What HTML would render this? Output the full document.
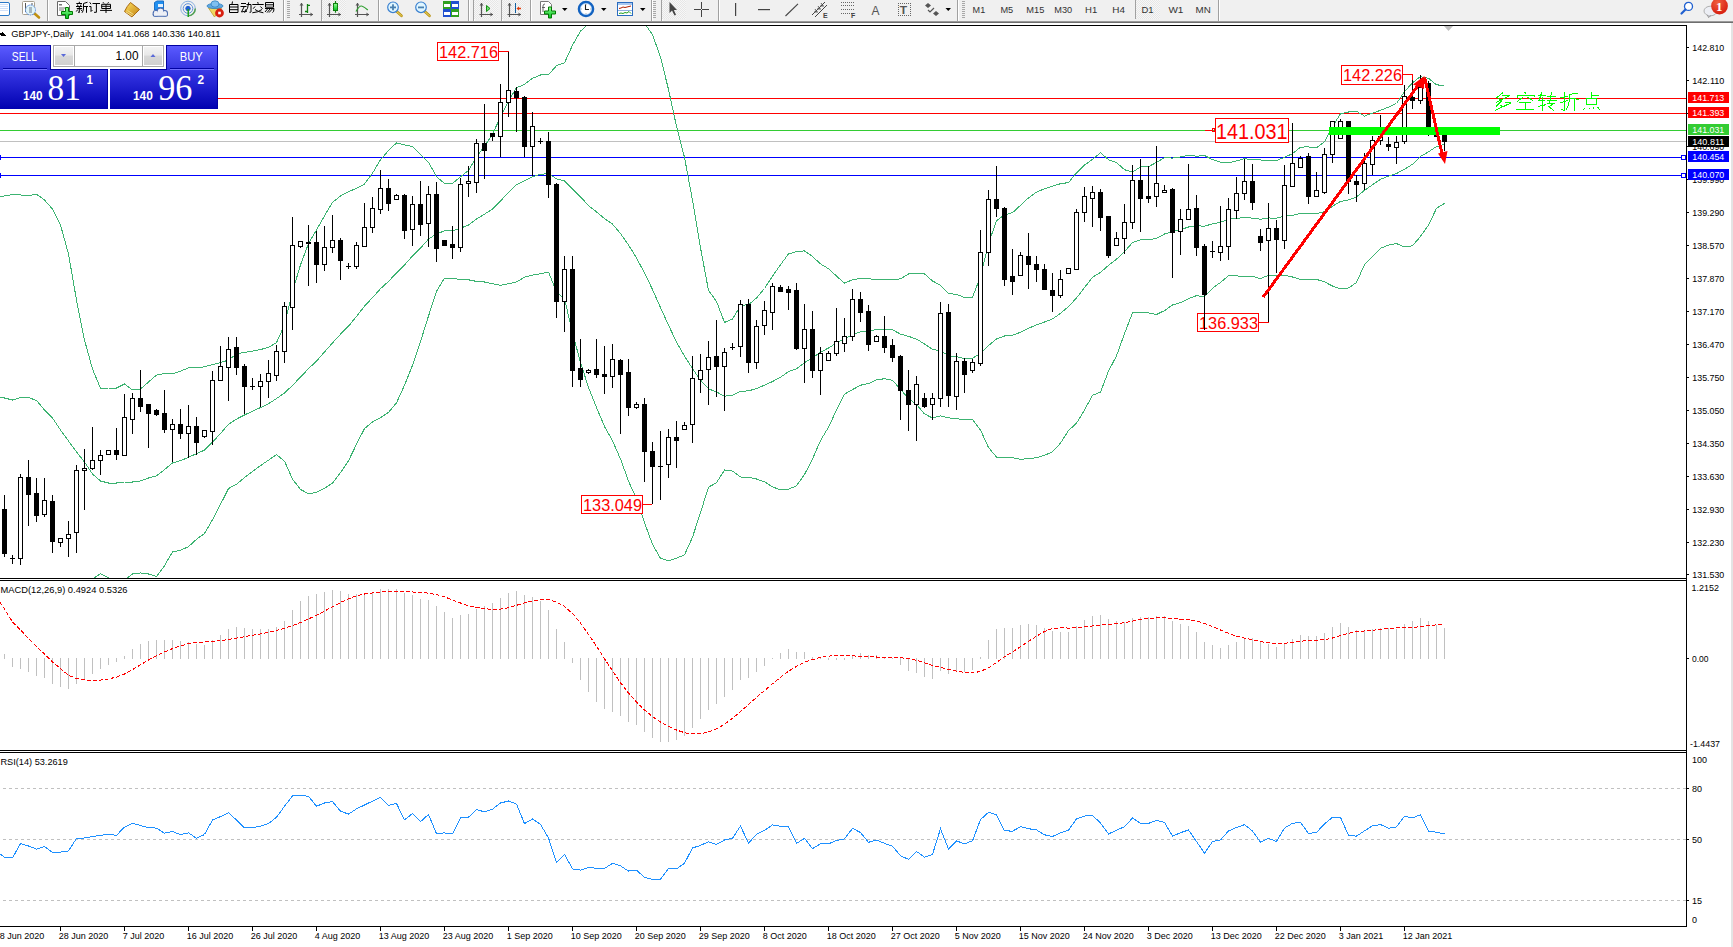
<!DOCTYPE html>
<html><head><meta charset="utf-8">
<style>
html,body{margin:0;padding:0;width:1733px;height:947px;overflow:hidden;background:#f0f0f0;font-family:"Liberation Sans",sans-serif;}
#main{position:absolute;left:0;top:0;}
</style></head><body>
<svg id="main" width="1733" height="947" viewBox="0 0 1733 947" font-family="Liberation Sans, sans-serif">
<rect x="0" y="0" width="1733" height="21" fill="#f0f0f0"/>
<rect x="0" y="21" width="1733" height="1" fill="#9a9a9a"/>
<rect x="0" y="22" width="1733" height="1" fill="#6e6e6e"/>
<defs><clipPath id="cm"><rect x="0" y="26" width="1686" height="552"/></clipPath><clipPath id="cd"><rect x="0" y="581" width="1686" height="169"/></clipPath><clipPath id="cr"><rect x="0" y="753" width="1686" height="173"/></clipPath></defs>
<rect x="0" y="23" width="1733" height="924" fill="#fff"/>
<g shape-rendering="crispEdges" fill="#000">
<rect x="0" y="25" width="1687" height="1"/>
<rect x="1686" y="25" width="1" height="902"/>
<rect x="0" y="578" width="1687" height="1"/>
<rect x="0" y="580" width="1687" height="1"/>
<rect x="0" y="750" width="1687" height="1"/>
<rect x="0" y="752" width="1687" height="1"/>
<rect x="0" y="926" width="1687" height="1"/>
</g>
<g shape-rendering="crispEdges">
<rect x="0" y="98" width="1686" height="1" fill="#ff0000"/>
<rect x="0" y="113" width="1686" height="1" fill="#ff0000"/>
<rect x="0" y="130" width="1686" height="1" fill="#33cc33"/>
<rect x="0" y="141" width="1686" height="1" fill="#c0c0c0"/>
<rect x="0" y="157" width="1686" height="1" fill="#0000ff"/>
<rect x="0" y="175" width="1686" height="1" fill="#0000ff"/>
</g>
<g clip-path="url(#cm)">
<polyline points="-3.5,197.0 4.5,196.0 12.5,194.5 20.5,195.0 28.5,195.5 36.5,194.2 44.5,200.0 52.5,209.0 60.5,225.0 68.5,254.0 76.5,300.0 84.5,340.0 92.5,369.0 100.5,388.4 108.5,388.0 116.5,388.0 124.5,384.0 132.5,390.0 140.5,389.0 148.5,382.0 156.5,375.1 164.5,373.5 172.5,374.0 180.5,371.1 188.5,367.9 196.5,368.0 204.5,366.8 212.5,364.5 220.5,362.6 228.5,360.1 236.5,353.8 244.5,352.4 252.5,351.1 260.5,349.6 268.5,347.3 276.5,342.7 284.5,324.9 292.5,291.6 300.5,264.9 308.5,243.5 316.5,229.9 324.5,215.8 332.5,202.5 340.5,195.9 348.5,191.7 356.5,188.4 364.5,184.0 372.5,173.2 380.5,159.8 388.5,150.5 396.5,142.9 404.5,144.8 412.5,146.7 420.5,154.5 428.5,162.3 436.5,176.6 444.5,183.5 452.5,183.5 460.5,176.8 468.5,170.4 476.5,156.8 484.5,146.4 492.5,134.3 500.5,116.8 508.5,100.7 516.5,87.8 524.5,84.4 532.5,78.3 540.5,75.0 548.5,74.8 556.5,65.7 564.5,62.8 572.5,45.3 580.5,31.2 588.5,23.7 596.5,16.3 604.5,10.4 612.5,7.4 620.5,8.2 628.5,8.7 636.5,16.9 644.5,23.3 652.5,34.7 660.5,57.1 668.5,89.5 676.5,126.4 684.5,157.4 692.5,200.3 700.5,247.7 708.5,290.4 716.5,301.4 724.5,322.4 732.5,319.0 740.5,305.5 748.5,304.7 756.5,298.0 764.5,288.5 772.5,276.1 780.5,264.7 788.5,254.0 796.5,251.7 804.5,250.9 812.5,256.5 820.5,263.9 828.5,268.7 836.5,276.1 844.5,283.1 852.5,279.7 860.5,278.4 868.5,278.7 876.5,279.6 884.5,279.8 892.5,279.4 900.5,278.9 908.5,274.0 916.5,273.8 924.5,273.9 932.5,281.0 940.5,285.3 948.5,293.6 956.5,294.4 964.5,297.5 972.5,297.3 980.5,276.5 988.5,243.6 996.5,220.7 1004.5,214.9 1012.5,212.7 1020.5,205.3 1028.5,197.9 1036.5,192.1 1044.5,188.7 1052.5,186.1 1060.5,183.7 1068.5,182.6 1076.5,172.8 1084.5,165.1 1092.5,159.3 1100.5,152.8 1108.5,159.7 1116.5,162.6 1124.5,169.7 1132.5,172.1 1140.5,166.9 1148.5,166.6 1156.5,162.4 1164.5,157.5 1172.5,158.1 1180.5,156.9 1188.5,155.3 1196.5,156.2 1204.5,155.5 1212.5,159.6 1220.5,162.2 1228.5,162.9 1236.5,160.9 1244.5,158.6 1252.5,159.7 1260.5,160.0 1268.5,160.8 1276.5,160.7 1284.5,157.2 1292.5,153.7 1300.5,147.1 1308.5,146.9 1316.5,147.8 1324.5,141.8 1332.5,126.5 1340.5,113.8 1348.5,112.0 1356.5,111.3 1364.5,116.1 1372.5,113.1 1380.5,110.3 1388.5,107.1 1396.5,103.5 1404.5,91.7 1412.5,82.7 1420.5,76.6 1428.5,78.3 1436.5,84.9 1444.5,85.3" fill="none" stroke="#3cb371" stroke-width="1" shape-rendering="crispEdges" />
<polyline points="-3.5,397.0 4.5,398.0 12.5,400.0 20.5,397.5 28.5,397.5 36.5,400.5 44.5,410.0 52.5,418.0 60.5,430.0 68.5,441.0 76.5,452.0 84.5,462.0 92.5,474.0 100.5,481.0 108.5,483.0 116.5,483.0 124.5,482.0 132.5,482.0 140.5,481.0 148.5,478.0 156.5,475.8 164.5,469.6 172.5,462.9 180.5,460.7 188.5,457.3 196.5,453.6 204.5,450.1 212.5,442.1 220.5,433.5 228.5,424.3 236.5,419.1 244.5,415.0 252.5,411.2 260.5,407.6 268.5,403.7 276.5,398.6 284.5,393.0 292.5,385.4 300.5,377.1 308.5,368.6 316.5,361.1 324.5,352.0 332.5,342.9 340.5,334.2 348.5,326.2 356.5,316.4 364.5,306.2 372.5,297.6 380.5,288.7 388.5,281.4 396.5,272.9 404.5,265.0 412.5,256.0 420.5,248.1 428.5,239.1 436.5,233.9 444.5,230.9 452.5,231.0 460.5,228.2 468.5,225.1 476.5,219.1 484.5,214.2 492.5,209.0 500.5,201.1 508.5,192.2 516.5,184.8 524.5,180.8 532.5,176.7 540.5,174.4 548.5,173.4 556.5,178.8 564.5,180.8 572.5,189.0 580.5,196.8 588.5,205.6 596.5,211.9 604.5,218.5 612.5,224.1 620.5,233.6 628.5,244.9 636.5,257.9 644.5,273.0 652.5,289.5 660.5,307.7 668.5,325.1 676.5,342.2 684.5,356.1 692.5,368.7 700.5,380.1 708.5,388.8 716.5,392.0 724.5,396.2 732.5,395.1 740.5,391.3 748.5,390.9 756.5,388.5 764.5,385.2 772.5,381.5 780.5,377.3 788.5,371.6 796.5,368.8 804.5,362.7 812.5,357.8 820.5,352.2 828.5,348.0 836.5,343.0 844.5,338.6 852.5,334.7 860.5,331.8 868.5,331.1 876.5,329.6 884.5,329.3 892.5,329.8 900.5,334.1 908.5,336.3 916.5,339.1 924.5,343.9 932.5,349.5 940.5,350.6 948.5,355.8 956.5,356.5 964.5,358.7 972.5,358.3 980.5,353.3 988.5,345.6 996.5,338.9 1004.5,336.0 1012.5,335.1 1020.5,332.3 1028.5,328.3 1036.5,324.9 1044.5,322.0 1052.5,318.9 1060.5,313.4 1068.5,306.6 1076.5,298.0 1084.5,287.6 1092.5,277.3 1100.5,272.4 1108.5,265.4 1116.5,259.2 1124.5,251.6 1132.5,242.5 1140.5,239.8 1148.5,239.7 1156.5,238.5 1164.5,234.0 1172.5,231.6 1180.5,229.7 1188.5,227.0 1196.5,225.9 1204.5,226.1 1212.5,223.9 1220.5,222.3 1228.5,219.3 1236.5,218.4 1244.5,217.6 1252.5,218.1 1260.5,219.3 1268.5,218.0 1276.5,218.1 1284.5,216.2 1292.5,215.3 1300.5,213.3 1308.5,213.2 1316.5,213.6 1324.5,211.8 1332.5,206.3 1340.5,201.4 1348.5,200.0 1356.5,196.9 1364.5,190.3 1372.5,184.8 1380.5,179.3 1388.5,176.1 1396.5,173.5 1404.5,169.3 1412.5,164.3 1420.5,156.5 1428.5,151.8 1436.5,146.6 1444.5,144.4" fill="none" stroke="#3cb371" stroke-width="1" shape-rendering="crispEdges" />
<polyline points="-3.5,597.0 4.5,600.0 12.5,605.5 20.5,600.0 28.5,599.5 36.5,606.8 44.5,620.0 52.5,627.0 60.5,635.0 68.5,628.0 76.5,604.0 84.5,584.0 92.5,579.0 100.5,573.6 108.5,578.0 116.5,578.0 124.5,580.0 132.5,574.0 140.5,573.0 148.5,574.0 156.5,576.5 164.5,565.7 172.5,551.8 180.5,550.3 188.5,546.7 196.5,539.3 204.5,533.5 212.5,519.7 220.5,504.4 228.5,488.5 236.5,484.3 244.5,477.5 252.5,471.4 260.5,465.6 268.5,460.2 276.5,454.5 284.5,461.2 292.5,479.1 300.5,489.4 308.5,493.8 316.5,492.4 324.5,488.2 332.5,483.2 340.5,472.6 348.5,460.8 356.5,444.3 364.5,428.5 372.5,422.0 380.5,417.6 388.5,412.4 396.5,402.9 404.5,385.2 412.5,365.2 420.5,341.6 428.5,316.0 436.5,291.3 444.5,278.2 452.5,278.5 460.5,279.5 468.5,279.8 476.5,281.4 484.5,282.0 492.5,283.7 500.5,285.3 508.5,283.8 516.5,281.9 524.5,277.2 532.5,275.1 540.5,273.8 548.5,272.1 556.5,291.9 564.5,298.7 572.5,332.7 580.5,362.4 588.5,387.4 596.5,407.5 604.5,426.5 612.5,440.8 620.5,459.0 628.5,481.0 636.5,498.9 644.5,522.6 652.5,544.4 660.5,558.4 668.5,560.7 676.5,558.1 684.5,554.9 692.5,537.2 700.5,512.6 708.5,487.2 716.5,482.7 724.5,470.0 732.5,471.1 740.5,477.0 748.5,477.1 756.5,479.0 764.5,481.8 772.5,486.9 780.5,489.9 788.5,489.2 796.5,485.8 804.5,474.5 812.5,459.1 820.5,440.5 828.5,427.2 836.5,410.0 844.5,394.2 852.5,389.6 860.5,385.2 868.5,383.6 876.5,379.6 884.5,378.8 892.5,380.2 900.5,389.4 908.5,398.5 916.5,404.5 924.5,413.9 932.5,418.0 940.5,415.9 948.5,417.9 956.5,418.5 964.5,420.0 972.5,419.4 980.5,430.0 988.5,447.5 996.5,457.1 1004.5,457.1 1012.5,457.6 1020.5,459.3 1028.5,458.6 1036.5,457.7 1044.5,455.3 1052.5,451.8 1060.5,443.1 1068.5,430.6 1076.5,423.2 1084.5,410.0 1092.5,395.3 1100.5,392.1 1108.5,371.1 1116.5,355.8 1124.5,333.6 1132.5,313.0 1140.5,312.8 1148.5,312.9 1156.5,314.5 1164.5,310.6 1172.5,305.0 1180.5,302.6 1188.5,298.7 1196.5,295.6 1204.5,296.8 1212.5,288.3 1220.5,282.4 1228.5,275.8 1236.5,275.9 1244.5,276.6 1252.5,276.4 1260.5,278.7 1268.5,275.2 1276.5,275.4 1284.5,275.3 1292.5,277.0 1300.5,279.6 1308.5,279.6 1316.5,279.4 1324.5,281.9 1332.5,286.0 1340.5,289.0 1348.5,288.0 1356.5,282.5 1364.5,264.6 1372.5,256.5 1380.5,248.3 1388.5,245.1 1396.5,243.6 1404.5,246.9 1412.5,245.8 1420.5,236.4 1428.5,225.2 1436.5,208.3 1444.5,203.4" fill="none" stroke="#3cb371" stroke-width="1" shape-rendering="crispEdges" />
</g>
<g shape-rendering="crispEdges" clip-path="url(#cm)">
<rect x="4" y="495" width="1" height="62" fill="#000"/>
<rect x="2" y="509" width="5" height="45" fill="#000"/>
<rect x="12" y="555" width="1" height="9" fill="#000"/>
<rect x="10" y="558" width="5" height="1" fill="#000"/>
<rect x="20" y="474" width="1" height="91" fill="#000"/>
<rect x="18" y="477" width="5" height="82" fill="#000"/>
<rect x="19" y="478" width="3" height="80" fill="#fff"/>
<rect x="28" y="460" width="1" height="66" fill="#000"/>
<rect x="26" y="477" width="5" height="18" fill="#000"/>
<rect x="36" y="478" width="1" height="44" fill="#000"/>
<rect x="34" y="493" width="5" height="23" fill="#000"/>
<rect x="44" y="478" width="1" height="39" fill="#000"/>
<rect x="42" y="500" width="5" height="15" fill="#000"/>
<rect x="43" y="501" width="3" height="13" fill="#fff"/>
<rect x="52" y="495" width="1" height="58" fill="#000"/>
<rect x="50" y="501" width="5" height="41" fill="#000"/>
<rect x="60" y="538" width="1" height="9" fill="#000"/>
<rect x="58" y="538" width="5" height="5" fill="#000"/>
<rect x="59" y="539" width="3" height="3" fill="#fff"/>
<rect x="68" y="521" width="1" height="36" fill="#000"/>
<rect x="66" y="534" width="5" height="5" fill="#000"/>
<rect x="67" y="535" width="3" height="3" fill="#fff"/>
<rect x="76" y="465" width="1" height="88" fill="#000"/>
<rect x="74" y="470" width="5" height="63" fill="#000"/>
<rect x="75" y="471" width="3" height="61" fill="#fff"/>
<rect x="84" y="449" width="1" height="61" fill="#000"/>
<rect x="82" y="468" width="5" height="3" fill="#000"/>
<rect x="83" y="469" width="3" height="1" fill="#fff"/>
<rect x="92" y="427" width="1" height="43" fill="#000"/>
<rect x="90" y="460" width="5" height="9" fill="#000"/>
<rect x="91" y="461" width="3" height="7" fill="#fff"/>
<rect x="100" y="450" width="1" height="25" fill="#000"/>
<rect x="98" y="455" width="5" height="6" fill="#000"/>
<rect x="99" y="456" width="3" height="4" fill="#fff"/>
<rect x="108" y="450" width="1" height="5" fill="#000"/>
<rect x="106" y="450" width="5" height="5" fill="#000"/>
<rect x="107" y="451" width="3" height="3" fill="#fff"/>
<rect x="116" y="428" width="1" height="32" fill="#000"/>
<rect x="114" y="450" width="5" height="5" fill="#000"/>
<rect x="124" y="394" width="1" height="61" fill="#000"/>
<rect x="122" y="417" width="5" height="39" fill="#000"/>
<rect x="123" y="418" width="3" height="37" fill="#fff"/>
<rect x="132" y="393" width="1" height="41" fill="#000"/>
<rect x="130" y="398" width="5" height="22" fill="#000"/>
<rect x="131" y="399" width="3" height="20" fill="#fff"/>
<rect x="140" y="370" width="1" height="42" fill="#000"/>
<rect x="138" y="398" width="5" height="9" fill="#000"/>
<rect x="148" y="404" width="1" height="44" fill="#000"/>
<rect x="146" y="404" width="5" height="10" fill="#000"/>
<rect x="156" y="409" width="1" height="7" fill="#000"/>
<rect x="154" y="410" width="5" height="5" fill="#000"/>
<rect x="164" y="390" width="1" height="43" fill="#000"/>
<rect x="162" y="413" width="5" height="17" fill="#000"/>
<rect x="172" y="419" width="1" height="43" fill="#000"/>
<rect x="170" y="424" width="5" height="6" fill="#000"/>
<rect x="171" y="425" width="3" height="4" fill="#fff"/>
<rect x="180" y="409" width="1" height="30" fill="#000"/>
<rect x="178" y="424" width="5" height="10" fill="#000"/>
<rect x="188" y="405" width="1" height="53" fill="#000"/>
<rect x="186" y="426" width="5" height="8" fill="#000"/>
<rect x="187" y="427" width="3" height="6" fill="#fff"/>
<rect x="196" y="417" width="1" height="38" fill="#000"/>
<rect x="194" y="426" width="5" height="17" fill="#000"/>
<rect x="204" y="430" width="1" height="8" fill="#000"/>
<rect x="202" y="430" width="5" height="7" fill="#000"/>
<rect x="203" y="431" width="3" height="5" fill="#fff"/>
<rect x="212" y="371" width="1" height="74" fill="#000"/>
<rect x="210" y="380" width="5" height="52" fill="#000"/>
<rect x="211" y="381" width="3" height="50" fill="#fff"/>
<rect x="220" y="346" width="1" height="35" fill="#000"/>
<rect x="218" y="366" width="5" height="15" fill="#000"/>
<rect x="219" y="367" width="3" height="13" fill="#fff"/>
<rect x="228" y="337" width="1" height="64" fill="#000"/>
<rect x="226" y="349" width="5" height="19" fill="#000"/>
<rect x="227" y="350" width="3" height="17" fill="#fff"/>
<rect x="236" y="337" width="1" height="38" fill="#000"/>
<rect x="234" y="347" width="5" height="21" fill="#000"/>
<rect x="244" y="364" width="1" height="50" fill="#000"/>
<rect x="242" y="366" width="5" height="21" fill="#000"/>
<rect x="252" y="378" width="1" height="12" fill="#000"/>
<rect x="250" y="386" width="5" height="1" fill="#000"/>
<rect x="260" y="374" width="1" height="33" fill="#000"/>
<rect x="258" y="381" width="5" height="6" fill="#000"/>
<rect x="259" y="382" width="3" height="4" fill="#fff"/>
<rect x="268" y="360" width="1" height="38" fill="#000"/>
<rect x="266" y="373" width="5" height="9" fill="#000"/>
<rect x="267" y="374" width="3" height="7" fill="#fff"/>
<rect x="276" y="345" width="1" height="36" fill="#000"/>
<rect x="274" y="351" width="5" height="25" fill="#000"/>
<rect x="275" y="352" width="3" height="23" fill="#fff"/>
<rect x="284" y="302" width="1" height="61" fill="#000"/>
<rect x="282" y="306" width="5" height="46" fill="#000"/>
<rect x="283" y="307" width="3" height="44" fill="#fff"/>
<rect x="292" y="217" width="1" height="113" fill="#000"/>
<rect x="290" y="245" width="5" height="63" fill="#000"/>
<rect x="291" y="246" width="3" height="61" fill="#fff"/>
<rect x="300" y="241" width="1" height="7" fill="#000"/>
<rect x="298" y="241" width="5" height="6" fill="#000"/>
<rect x="299" y="242" width="3" height="4" fill="#fff"/>
<rect x="308" y="225" width="1" height="61" fill="#000"/>
<rect x="306" y="242" width="5" height="2" fill="#000"/>
<rect x="316" y="231" width="1" height="52" fill="#000"/>
<rect x="314" y="242" width="5" height="23" fill="#000"/>
<rect x="324" y="226" width="1" height="45" fill="#000"/>
<rect x="322" y="247" width="5" height="18" fill="#000"/>
<rect x="323" y="248" width="3" height="16" fill="#fff"/>
<rect x="332" y="215" width="1" height="38" fill="#000"/>
<rect x="330" y="240" width="5" height="8" fill="#000"/>
<rect x="331" y="241" width="3" height="6" fill="#fff"/>
<rect x="340" y="238" width="1" height="42" fill="#000"/>
<rect x="338" y="240" width="5" height="21" fill="#000"/>
<rect x="348" y="263" width="1" height="6" fill="#000"/>
<rect x="346" y="266" width="5" height="1" fill="#000"/>
<rect x="356" y="242" width="1" height="27" fill="#000"/>
<rect x="354" y="245" width="5" height="22" fill="#000"/>
<rect x="355" y="246" width="3" height="20" fill="#fff"/>
<rect x="364" y="203" width="1" height="44" fill="#000"/>
<rect x="362" y="227" width="5" height="20" fill="#000"/>
<rect x="363" y="228" width="3" height="18" fill="#fff"/>
<rect x="372" y="197" width="1" height="36" fill="#000"/>
<rect x="370" y="208" width="5" height="20" fill="#000"/>
<rect x="371" y="209" width="3" height="18" fill="#fff"/>
<rect x="380" y="170" width="1" height="44" fill="#000"/>
<rect x="378" y="188" width="5" height="22" fill="#000"/>
<rect x="379" y="189" width="3" height="20" fill="#fff"/>
<rect x="388" y="179" width="1" height="32" fill="#000"/>
<rect x="386" y="188" width="5" height="16" fill="#000"/>
<rect x="396" y="194" width="1" height="6" fill="#000"/>
<rect x="394" y="195" width="5" height="5" fill="#000"/>
<rect x="395" y="196" width="3" height="3" fill="#fff"/>
<rect x="404" y="194" width="1" height="45" fill="#000"/>
<rect x="402" y="195" width="5" height="36" fill="#000"/>
<rect x="412" y="196" width="1" height="50" fill="#000"/>
<rect x="410" y="204" width="5" height="26" fill="#000"/>
<rect x="411" y="205" width="3" height="24" fill="#fff"/>
<rect x="420" y="181" width="1" height="55" fill="#000"/>
<rect x="418" y="204" width="5" height="21" fill="#000"/>
<rect x="428" y="186" width="1" height="61" fill="#000"/>
<rect x="426" y="194" width="5" height="30" fill="#000"/>
<rect x="427" y="195" width="3" height="28" fill="#fff"/>
<rect x="436" y="182" width="1" height="80" fill="#000"/>
<rect x="434" y="194" width="5" height="55" fill="#000"/>
<rect x="444" y="240" width="1" height="5" fill="#000"/>
<rect x="442" y="240" width="5" height="6" fill="#000"/>
<rect x="452" y="226" width="1" height="33" fill="#000"/>
<rect x="450" y="244" width="5" height="4" fill="#000"/>
<rect x="460" y="178" width="1" height="74" fill="#000"/>
<rect x="458" y="184" width="5" height="64" fill="#000"/>
<rect x="459" y="185" width="3" height="62" fill="#fff"/>
<rect x="468" y="166" width="1" height="31" fill="#000"/>
<rect x="466" y="181" width="5" height="3" fill="#000"/>
<rect x="467" y="182" width="3" height="1" fill="#fff"/>
<rect x="476" y="139" width="1" height="54" fill="#000"/>
<rect x="474" y="143" width="5" height="40" fill="#000"/>
<rect x="475" y="144" width="3" height="38" fill="#fff"/>
<rect x="484" y="104" width="1" height="75" fill="#000"/>
<rect x="482" y="143" width="5" height="8" fill="#000"/>
<rect x="492" y="133" width="1" height="8" fill="#000"/>
<rect x="490" y="133" width="5" height="4" fill="#000"/>
<rect x="500" y="84" width="1" height="73" fill="#000"/>
<rect x="498" y="102" width="5" height="35" fill="#000"/>
<rect x="499" y="103" width="3" height="33" fill="#fff"/>
<rect x="508" y="51" width="1" height="66" fill="#000"/>
<rect x="506" y="90" width="5" height="13" fill="#000"/>
<rect x="507" y="91" width="3" height="11" fill="#fff"/>
<rect x="516" y="87" width="1" height="45" fill="#000"/>
<rect x="514" y="91" width="5" height="7" fill="#000"/>
<rect x="524" y="96" width="1" height="61" fill="#000"/>
<rect x="522" y="97" width="5" height="50" fill="#000"/>
<rect x="532" y="112" width="1" height="64" fill="#000"/>
<rect x="530" y="126" width="5" height="21" fill="#000"/>
<rect x="531" y="127" width="3" height="19" fill="#fff"/>
<rect x="540" y="138" width="1" height="6" fill="#000"/>
<rect x="538" y="141" width="5" height="1" fill="#000"/>
<rect x="548" y="132" width="1" height="66" fill="#000"/>
<rect x="546" y="141" width="5" height="44" fill="#000"/>
<rect x="556" y="183" width="1" height="135" fill="#000"/>
<rect x="554" y="184" width="5" height="118" fill="#000"/>
<rect x="564" y="256" width="1" height="76" fill="#000"/>
<rect x="562" y="269" width="5" height="33" fill="#000"/>
<rect x="563" y="270" width="3" height="31" fill="#fff"/>
<rect x="572" y="256" width="1" height="131" fill="#000"/>
<rect x="570" y="269" width="5" height="102" fill="#000"/>
<rect x="580" y="339" width="1" height="48" fill="#000"/>
<rect x="578" y="368" width="5" height="12" fill="#000"/>
<rect x="588" y="369" width="1" height="5" fill="#000"/>
<rect x="586" y="370" width="5" height="3" fill="#000"/>
<rect x="587" y="371" width="3" height="1" fill="#fff"/>
<rect x="596" y="339" width="1" height="39" fill="#000"/>
<rect x="594" y="369" width="5" height="6" fill="#000"/>
<rect x="604" y="346" width="1" height="48" fill="#000"/>
<rect x="602" y="374" width="5" height="3" fill="#000"/>
<rect x="612" y="344" width="1" height="44" fill="#000"/>
<rect x="610" y="359" width="5" height="18" fill="#000"/>
<rect x="611" y="360" width="3" height="16" fill="#fff"/>
<rect x="620" y="359" width="1" height="75" fill="#000"/>
<rect x="618" y="360" width="5" height="15" fill="#000"/>
<rect x="628" y="359" width="1" height="57" fill="#000"/>
<rect x="626" y="372" width="5" height="36" fill="#000"/>
<rect x="636" y="402" width="1" height="7" fill="#000"/>
<rect x="634" y="404" width="5" height="4" fill="#000"/>
<rect x="635" y="405" width="3" height="2" fill="#fff"/>
<rect x="644" y="398" width="1" height="84" fill="#000"/>
<rect x="642" y="404" width="5" height="48" fill="#000"/>
<rect x="652" y="442" width="1" height="62" fill="#000"/>
<rect x="650" y="451" width="5" height="16" fill="#000"/>
<rect x="660" y="431" width="1" height="69" fill="#000"/>
<rect x="658" y="466" width="5" height="1" fill="#000"/>
<rect x="668" y="429" width="1" height="49" fill="#000"/>
<rect x="666" y="437" width="5" height="28" fill="#000"/>
<rect x="667" y="438" width="3" height="26" fill="#fff"/>
<rect x="676" y="421" width="1" height="47" fill="#000"/>
<rect x="674" y="437" width="5" height="4" fill="#000"/>
<rect x="684" y="422" width="1" height="7" fill="#000"/>
<rect x="682" y="425" width="5" height="5" fill="#000"/>
<rect x="683" y="426" width="3" height="3" fill="#fff"/>
<rect x="692" y="356" width="1" height="87" fill="#000"/>
<rect x="690" y="378" width="5" height="47" fill="#000"/>
<rect x="691" y="379" width="3" height="45" fill="#fff"/>
<rect x="700" y="354" width="1" height="39" fill="#000"/>
<rect x="698" y="370" width="5" height="10" fill="#000"/>
<rect x="699" y="371" width="3" height="8" fill="#fff"/>
<rect x="708" y="341" width="1" height="64" fill="#000"/>
<rect x="706" y="357" width="5" height="13" fill="#000"/>
<rect x="707" y="358" width="3" height="11" fill="#fff"/>
<rect x="716" y="320" width="1" height="77" fill="#000"/>
<rect x="714" y="356" width="5" height="11" fill="#000"/>
<rect x="724" y="348" width="1" height="63" fill="#000"/>
<rect x="722" y="352" width="5" height="15" fill="#000"/>
<rect x="723" y="353" width="3" height="13" fill="#fff"/>
<rect x="732" y="343" width="1" height="7" fill="#000"/>
<rect x="730" y="347" width="5" height="1" fill="#000"/>
<rect x="740" y="300" width="1" height="57" fill="#000"/>
<rect x="738" y="304" width="5" height="43" fill="#000"/>
<rect x="739" y="305" width="3" height="41" fill="#fff"/>
<rect x="748" y="299" width="1" height="74" fill="#000"/>
<rect x="746" y="304" width="5" height="59" fill="#000"/>
<rect x="756" y="320" width="1" height="49" fill="#000"/>
<rect x="754" y="326" width="5" height="37" fill="#000"/>
<rect x="755" y="327" width="3" height="35" fill="#fff"/>
<rect x="764" y="301" width="1" height="34" fill="#000"/>
<rect x="762" y="310" width="5" height="16" fill="#000"/>
<rect x="763" y="311" width="3" height="14" fill="#fff"/>
<rect x="772" y="283" width="1" height="47" fill="#000"/>
<rect x="770" y="286" width="5" height="27" fill="#000"/>
<rect x="771" y="287" width="3" height="25" fill="#fff"/>
<rect x="780" y="285" width="1" height="7" fill="#000"/>
<rect x="778" y="287" width="5" height="5" fill="#000"/>
<rect x="788" y="286" width="1" height="24" fill="#000"/>
<rect x="786" y="289" width="5" height="4" fill="#000"/>
<rect x="796" y="283" width="1" height="67" fill="#000"/>
<rect x="794" y="290" width="5" height="59" fill="#000"/>
<rect x="804" y="304" width="1" height="79" fill="#000"/>
<rect x="802" y="329" width="5" height="20" fill="#000"/>
<rect x="803" y="330" width="3" height="18" fill="#fff"/>
<rect x="812" y="311" width="1" height="67" fill="#000"/>
<rect x="810" y="329" width="5" height="42" fill="#000"/>
<rect x="820" y="347" width="1" height="48" fill="#000"/>
<rect x="818" y="353" width="5" height="18" fill="#000"/>
<rect x="819" y="354" width="3" height="16" fill="#fff"/>
<rect x="828" y="351" width="1" height="9" fill="#000"/>
<rect x="826" y="353" width="5" height="8" fill="#000"/>
<rect x="827" y="354" width="3" height="6" fill="#fff"/>
<rect x="836" y="308" width="1" height="48" fill="#000"/>
<rect x="834" y="341" width="5" height="13" fill="#000"/>
<rect x="835" y="342" width="3" height="11" fill="#fff"/>
<rect x="844" y="318" width="1" height="34" fill="#000"/>
<rect x="842" y="336" width="5" height="8" fill="#000"/>
<rect x="843" y="337" width="3" height="6" fill="#fff"/>
<rect x="852" y="289" width="1" height="52" fill="#000"/>
<rect x="850" y="299" width="5" height="38" fill="#000"/>
<rect x="851" y="300" width="3" height="36" fill="#fff"/>
<rect x="860" y="292" width="1" height="30" fill="#000"/>
<rect x="858" y="299" width="5" height="14" fill="#000"/>
<rect x="868" y="305" width="1" height="46" fill="#000"/>
<rect x="866" y="311" width="5" height="34" fill="#000"/>
<rect x="876" y="335" width="1" height="6" fill="#000"/>
<rect x="874" y="336" width="5" height="6" fill="#000"/>
<rect x="875" y="337" width="3" height="4" fill="#fff"/>
<rect x="884" y="316" width="1" height="37" fill="#000"/>
<rect x="882" y="336" width="5" height="12" fill="#000"/>
<rect x="892" y="339" width="1" height="23" fill="#000"/>
<rect x="890" y="345" width="5" height="13" fill="#000"/>
<rect x="900" y="355" width="1" height="65" fill="#000"/>
<rect x="898" y="356" width="5" height="35" fill="#000"/>
<rect x="908" y="370" width="1" height="61" fill="#000"/>
<rect x="906" y="390" width="5" height="15" fill="#000"/>
<rect x="916" y="376" width="1" height="65" fill="#000"/>
<rect x="914" y="384" width="5" height="21" fill="#000"/>
<rect x="915" y="385" width="3" height="19" fill="#fff"/>
<rect x="924" y="393" width="1" height="15" fill="#000"/>
<rect x="922" y="398" width="5" height="9" fill="#000"/>
<rect x="932" y="393" width="1" height="27" fill="#000"/>
<rect x="930" y="398" width="5" height="7" fill="#000"/>
<rect x="931" y="399" width="3" height="5" fill="#fff"/>
<rect x="940" y="302" width="1" height="105" fill="#000"/>
<rect x="938" y="313" width="5" height="86" fill="#000"/>
<rect x="939" y="314" width="3" height="84" fill="#fff"/>
<rect x="948" y="304" width="1" height="103" fill="#000"/>
<rect x="946" y="312" width="5" height="84" fill="#000"/>
<rect x="956" y="353" width="1" height="57" fill="#000"/>
<rect x="954" y="361" width="5" height="36" fill="#000"/>
<rect x="955" y="362" width="3" height="34" fill="#fff"/>
<rect x="964" y="358" width="1" height="35" fill="#000"/>
<rect x="962" y="361" width="5" height="14" fill="#000"/>
<rect x="972" y="359" width="1" height="14" fill="#000"/>
<rect x="970" y="362" width="5" height="9" fill="#000"/>
<rect x="971" y="363" width="3" height="7" fill="#fff"/>
<rect x="980" y="230" width="1" height="136" fill="#000"/>
<rect x="978" y="252" width="5" height="112" fill="#000"/>
<rect x="979" y="253" width="3" height="110" fill="#fff"/>
<rect x="988" y="190" width="1" height="76" fill="#000"/>
<rect x="986" y="199" width="5" height="54" fill="#000"/>
<rect x="987" y="200" width="3" height="52" fill="#fff"/>
<rect x="996" y="166" width="1" height="51" fill="#000"/>
<rect x="994" y="199" width="5" height="10" fill="#000"/>
<rect x="1004" y="207" width="1" height="79" fill="#000"/>
<rect x="1002" y="208" width="5" height="72" fill="#000"/>
<rect x="1012" y="249" width="1" height="46" fill="#000"/>
<rect x="1010" y="276" width="5" height="6" fill="#000"/>
<rect x="1020" y="252" width="1" height="24" fill="#000"/>
<rect x="1018" y="255" width="5" height="21" fill="#000"/>
<rect x="1019" y="256" width="3" height="19" fill="#fff"/>
<rect x="1028" y="233" width="1" height="56" fill="#000"/>
<rect x="1026" y="256" width="5" height="9" fill="#000"/>
<rect x="1036" y="256" width="1" height="26" fill="#000"/>
<rect x="1034" y="264" width="5" height="6" fill="#000"/>
<rect x="1044" y="264" width="1" height="25" fill="#000"/>
<rect x="1042" y="269" width="5" height="21" fill="#000"/>
<rect x="1052" y="273" width="1" height="39" fill="#000"/>
<rect x="1050" y="290" width="5" height="6" fill="#000"/>
<rect x="1060" y="270" width="1" height="28" fill="#000"/>
<rect x="1058" y="279" width="5" height="17" fill="#000"/>
<rect x="1059" y="280" width="3" height="15" fill="#fff"/>
<rect x="1068" y="268" width="1" height="5" fill="#000"/>
<rect x="1066" y="268" width="5" height="6" fill="#000"/>
<rect x="1067" y="269" width="3" height="4" fill="#fff"/>
<rect x="1076" y="209" width="1" height="61" fill="#000"/>
<rect x="1074" y="212" width="5" height="58" fill="#000"/>
<rect x="1075" y="213" width="3" height="56" fill="#fff"/>
<rect x="1084" y="187" width="1" height="35" fill="#000"/>
<rect x="1082" y="196" width="5" height="17" fill="#000"/>
<rect x="1083" y="197" width="3" height="15" fill="#fff"/>
<rect x="1092" y="186" width="1" height="41" fill="#000"/>
<rect x="1090" y="192" width="5" height="7" fill="#000"/>
<rect x="1091" y="193" width="3" height="5" fill="#fff"/>
<rect x="1100" y="189" width="1" height="42" fill="#000"/>
<rect x="1098" y="192" width="5" height="26" fill="#000"/>
<rect x="1108" y="216" width="1" height="42" fill="#000"/>
<rect x="1106" y="216" width="5" height="40" fill="#000"/>
<rect x="1116" y="232" width="1" height="14" fill="#000"/>
<rect x="1114" y="238" width="5" height="8" fill="#000"/>
<rect x="1115" y="239" width="3" height="6" fill="#fff"/>
<rect x="1124" y="204" width="1" height="50" fill="#000"/>
<rect x="1122" y="222" width="5" height="17" fill="#000"/>
<rect x="1123" y="223" width="3" height="15" fill="#fff"/>
<rect x="1132" y="165" width="1" height="64" fill="#000"/>
<rect x="1130" y="180" width="5" height="43" fill="#000"/>
<rect x="1131" y="181" width="3" height="41" fill="#fff"/>
<rect x="1140" y="159" width="1" height="73" fill="#000"/>
<rect x="1138" y="180" width="5" height="19" fill="#000"/>
<rect x="1148" y="166" width="1" height="37" fill="#000"/>
<rect x="1146" y="196" width="5" height="3" fill="#000"/>
<rect x="1156" y="146" width="1" height="61" fill="#000"/>
<rect x="1154" y="183" width="5" height="14" fill="#000"/>
<rect x="1155" y="184" width="3" height="12" fill="#fff"/>
<rect x="1164" y="185" width="1" height="7" fill="#000"/>
<rect x="1162" y="190" width="5" height="3" fill="#000"/>
<rect x="1163" y="191" width="3" height="1" fill="#fff"/>
<rect x="1172" y="188" width="1" height="90" fill="#000"/>
<rect x="1170" y="189" width="5" height="44" fill="#000"/>
<rect x="1180" y="209" width="1" height="46" fill="#000"/>
<rect x="1178" y="219" width="5" height="13" fill="#000"/>
<rect x="1179" y="220" width="3" height="11" fill="#fff"/>
<rect x="1188" y="164" width="1" height="55" fill="#000"/>
<rect x="1186" y="209" width="5" height="11" fill="#000"/>
<rect x="1187" y="210" width="3" height="9" fill="#fff"/>
<rect x="1196" y="195" width="1" height="61" fill="#000"/>
<rect x="1194" y="208" width="5" height="40" fill="#000"/>
<rect x="1204" y="244" width="1" height="86" fill="#000"/>
<rect x="1202" y="246" width="5" height="49" fill="#000"/>
<rect x="1212" y="241" width="1" height="17" fill="#000"/>
<rect x="1210" y="251" width="5" height="1" fill="#000"/>
<rect x="1220" y="206" width="1" height="55" fill="#000"/>
<rect x="1218" y="246" width="5" height="7" fill="#000"/>
<rect x="1219" y="247" width="3" height="5" fill="#fff"/>
<rect x="1228" y="198" width="1" height="62" fill="#000"/>
<rect x="1226" y="209" width="5" height="38" fill="#000"/>
<rect x="1227" y="210" width="3" height="36" fill="#fff"/>
<rect x="1236" y="177" width="1" height="42" fill="#000"/>
<rect x="1234" y="193" width="5" height="18" fill="#000"/>
<rect x="1235" y="194" width="3" height="16" fill="#fff"/>
<rect x="1244" y="159" width="1" height="41" fill="#000"/>
<rect x="1242" y="181" width="5" height="13" fill="#000"/>
<rect x="1243" y="182" width="3" height="11" fill="#fff"/>
<rect x="1252" y="164" width="1" height="46" fill="#000"/>
<rect x="1250" y="181" width="5" height="22" fill="#000"/>
<rect x="1260" y="229" width="1" height="22" fill="#000"/>
<rect x="1258" y="236" width="5" height="7" fill="#000"/>
<rect x="1268" y="203" width="1" height="119" fill="#000"/>
<rect x="1266" y="228" width="5" height="13" fill="#000"/>
<rect x="1267" y="229" width="3" height="11" fill="#fff"/>
<rect x="1276" y="220" width="1" height="53" fill="#000"/>
<rect x="1274" y="228" width="5" height="12" fill="#000"/>
<rect x="1284" y="165" width="1" height="84" fill="#000"/>
<rect x="1282" y="185" width="5" height="56" fill="#000"/>
<rect x="1283" y="186" width="3" height="54" fill="#fff"/>
<rect x="1292" y="123" width="1" height="64" fill="#000"/>
<rect x="1290" y="163" width="5" height="24" fill="#000"/>
<rect x="1291" y="164" width="3" height="22" fill="#fff"/>
<rect x="1300" y="156" width="1" height="12" fill="#000"/>
<rect x="1298" y="158" width="5" height="10" fill="#000"/>
<rect x="1299" y="159" width="3" height="8" fill="#fff"/>
<rect x="1308" y="153" width="1" height="51" fill="#000"/>
<rect x="1306" y="156" width="5" height="41" fill="#000"/>
<rect x="1316" y="172" width="1" height="25" fill="#000"/>
<rect x="1314" y="190" width="5" height="7" fill="#000"/>
<rect x="1315" y="191" width="3" height="5" fill="#fff"/>
<rect x="1324" y="148" width="1" height="46" fill="#000"/>
<rect x="1322" y="154" width="5" height="39" fill="#000"/>
<rect x="1323" y="155" width="3" height="37" fill="#fff"/>
<rect x="1332" y="121" width="1" height="42" fill="#000"/>
<rect x="1330" y="121" width="5" height="34" fill="#000"/>
<rect x="1331" y="122" width="3" height="32" fill="#fff"/>
<rect x="1340" y="119" width="1" height="19" fill="#000"/>
<rect x="1338" y="121" width="5" height="18" fill="#000"/>
<rect x="1339" y="122" width="3" height="16" fill="#fff"/>
<rect x="1348" y="121" width="1" height="73" fill="#000"/>
<rect x="1346" y="121" width="5" height="61" fill="#000"/>
<rect x="1356" y="175" width="1" height="27" fill="#000"/>
<rect x="1354" y="181" width="5" height="4" fill="#000"/>
<rect x="1364" y="153" width="1" height="37" fill="#000"/>
<rect x="1362" y="163" width="5" height="21" fill="#000"/>
<rect x="1363" y="164" width="3" height="19" fill="#fff"/>
<rect x="1372" y="136" width="1" height="39" fill="#000"/>
<rect x="1370" y="140" width="5" height="25" fill="#000"/>
<rect x="1371" y="141" width="3" height="23" fill="#fff"/>
<rect x="1380" y="115" width="1" height="30" fill="#000"/>
<rect x="1378" y="136" width="5" height="5" fill="#000"/>
<rect x="1379" y="137" width="3" height="3" fill="#fff"/>
<rect x="1388" y="137" width="1" height="14" fill="#000"/>
<rect x="1386" y="144" width="5" height="3" fill="#000"/>
<rect x="1396" y="136" width="1" height="28" fill="#000"/>
<rect x="1394" y="142" width="5" height="6" fill="#000"/>
<rect x="1395" y="143" width="3" height="4" fill="#fff"/>
<rect x="1404" y="85" width="1" height="59" fill="#000"/>
<rect x="1402" y="96" width="5" height="46" fill="#000"/>
<rect x="1403" y="97" width="3" height="44" fill="#fff"/>
<rect x="1412" y="74" width="1" height="35" fill="#000"/>
<rect x="1410" y="97" width="5" height="4" fill="#000"/>
<rect x="1420" y="75" width="1" height="29" fill="#000"/>
<rect x="1418" y="87" width="5" height="14" fill="#000"/>
<rect x="1419" y="88" width="3" height="12" fill="#fff"/>
<rect x="1428" y="81" width="1" height="55" fill="#000"/>
<rect x="1426" y="83" width="5" height="51" fill="#000"/>
<rect x="1436" y="130" width="1" height="7" fill="#000"/>
<rect x="1434" y="133" width="5" height="4" fill="#000"/>
<rect x="1444" y="135" width="1" height="16" fill="#000"/>
<rect x="1442" y="135" width="5" height="7" fill="#000"/>
</g>
<g shape-rendering="crispEdges" clip-path="url(#cd)">
<rect x="4" y="654" width="1" height="5" fill="#c0c0c0"/>
<rect x="12" y="658" width="1" height="9" fill="#c0c0c0"/>
<rect x="20" y="658" width="1" height="11" fill="#c0c0c0"/>
<rect x="28" y="658" width="1" height="14" fill="#c0c0c0"/>
<rect x="36" y="658" width="1" height="18" fill="#c0c0c0"/>
<rect x="44" y="658" width="1" height="20" fill="#c0c0c0"/>
<rect x="52" y="658" width="1" height="26" fill="#c0c0c0"/>
<rect x="60" y="658" width="1" height="29" fill="#c0c0c0"/>
<rect x="68" y="658" width="1" height="31" fill="#c0c0c0"/>
<rect x="76" y="658" width="1" height="26" fill="#c0c0c0"/>
<rect x="84" y="658" width="1" height="21" fill="#c0c0c0"/>
<rect x="92" y="658" width="1" height="16" fill="#c0c0c0"/>
<rect x="100" y="658" width="1" height="11" fill="#c0c0c0"/>
<rect x="108" y="658" width="1" height="7" fill="#c0c0c0"/>
<rect x="116" y="658" width="1" height="4" fill="#c0c0c0"/>
<rect x="124" y="656" width="1" height="3" fill="#c0c0c0"/>
<rect x="132" y="649" width="1" height="10" fill="#c0c0c0"/>
<rect x="140" y="644" width="1" height="15" fill="#c0c0c0"/>
<rect x="148" y="641" width="1" height="18" fill="#c0c0c0"/>
<rect x="156" y="640" width="1" height="19" fill="#c0c0c0"/>
<rect x="164" y="640" width="1" height="19" fill="#c0c0c0"/>
<rect x="172" y="640" width="1" height="19" fill="#c0c0c0"/>
<rect x="180" y="641" width="1" height="18" fill="#c0c0c0"/>
<rect x="188" y="642" width="1" height="17" fill="#c0c0c0"/>
<rect x="196" y="644" width="1" height="15" fill="#c0c0c0"/>
<rect x="204" y="645" width="1" height="14" fill="#c0c0c0"/>
<rect x="212" y="640" width="1" height="19" fill="#c0c0c0"/>
<rect x="220" y="635" width="1" height="24" fill="#c0c0c0"/>
<rect x="228" y="629" width="1" height="30" fill="#c0c0c0"/>
<rect x="236" y="627" width="1" height="32" fill="#c0c0c0"/>
<rect x="244" y="628" width="1" height="31" fill="#c0c0c0"/>
<rect x="252" y="629" width="1" height="30" fill="#c0c0c0"/>
<rect x="260" y="629" width="1" height="30" fill="#c0c0c0"/>
<rect x="268" y="629" width="1" height="30" fill="#c0c0c0"/>
<rect x="276" y="627" width="1" height="32" fill="#c0c0c0"/>
<rect x="284" y="621" width="1" height="38" fill="#c0c0c0"/>
<rect x="292" y="610" width="1" height="49" fill="#c0c0c0"/>
<rect x="300" y="601" width="1" height="58" fill="#c0c0c0"/>
<rect x="308" y="596" width="1" height="63" fill="#c0c0c0"/>
<rect x="316" y="594" width="1" height="65" fill="#c0c0c0"/>
<rect x="324" y="592" width="1" height="67" fill="#c0c0c0"/>
<rect x="332" y="590" width="1" height="69" fill="#c0c0c0"/>
<rect x="340" y="591" width="1" height="68" fill="#c0c0c0"/>
<rect x="348" y="594" width="1" height="65" fill="#c0c0c0"/>
<rect x="356" y="594" width="1" height="65" fill="#c0c0c0"/>
<rect x="364" y="594" width="1" height="65" fill="#c0c0c0"/>
<rect x="372" y="592" width="1" height="67" fill="#c0c0c0"/>
<rect x="380" y="589" width="1" height="70" fill="#c0c0c0"/>
<rect x="388" y="589" width="1" height="70" fill="#c0c0c0"/>
<rect x="396" y="589" width="1" height="70" fill="#c0c0c0"/>
<rect x="404" y="593" width="1" height="66" fill="#c0c0c0"/>
<rect x="412" y="595" width="1" height="64" fill="#c0c0c0"/>
<rect x="420" y="599" width="1" height="60" fill="#c0c0c0"/>
<rect x="428" y="600" width="1" height="59" fill="#c0c0c0"/>
<rect x="436" y="606" width="1" height="53" fill="#c0c0c0"/>
<rect x="444" y="612" width="1" height="47" fill="#c0c0c0"/>
<rect x="452" y="618" width="1" height="41" fill="#c0c0c0"/>
<rect x="460" y="615" width="1" height="44" fill="#c0c0c0"/>
<rect x="468" y="614" width="1" height="45" fill="#c0c0c0"/>
<rect x="476" y="609" width="1" height="50" fill="#c0c0c0"/>
<rect x="484" y="606" width="1" height="53" fill="#c0c0c0"/>
<rect x="492" y="603" width="1" height="56" fill="#c0c0c0"/>
<rect x="500" y="598" width="1" height="61" fill="#c0c0c0"/>
<rect x="508" y="593" width="1" height="66" fill="#c0c0c0"/>
<rect x="516" y="591" width="1" height="68" fill="#c0c0c0"/>
<rect x="524" y="595" width="1" height="64" fill="#c0c0c0"/>
<rect x="532" y="597" width="1" height="62" fill="#c0c0c0"/>
<rect x="540" y="601" width="1" height="58" fill="#c0c0c0"/>
<rect x="548" y="610" width="1" height="49" fill="#c0c0c0"/>
<rect x="556" y="629" width="1" height="30" fill="#c0c0c0"/>
<rect x="564" y="642" width="1" height="17" fill="#c0c0c0"/>
<rect x="572" y="658" width="1" height="5" fill="#c0c0c0"/>
<rect x="580" y="658" width="1" height="22" fill="#c0c0c0"/>
<rect x="588" y="658" width="1" height="34" fill="#c0c0c0"/>
<rect x="596" y="658" width="1" height="44" fill="#c0c0c0"/>
<rect x="604" y="658" width="1" height="51" fill="#c0c0c0"/>
<rect x="612" y="658" width="1" height="54" fill="#c0c0c0"/>
<rect x="620" y="658" width="1" height="58" fill="#c0c0c0"/>
<rect x="628" y="658" width="1" height="64" fill="#c0c0c0"/>
<rect x="636" y="658" width="1" height="67" fill="#c0c0c0"/>
<rect x="644" y="658" width="1" height="74" fill="#c0c0c0"/>
<rect x="652" y="658" width="1" height="80" fill="#c0c0c0"/>
<rect x="660" y="658" width="1" height="84" fill="#c0c0c0"/>
<rect x="668" y="658" width="1" height="84" fill="#c0c0c0"/>
<rect x="676" y="658" width="1" height="82" fill="#c0c0c0"/>
<rect x="684" y="658" width="1" height="78" fill="#c0c0c0"/>
<rect x="692" y="658" width="1" height="70" fill="#c0c0c0"/>
<rect x="700" y="658" width="1" height="61" fill="#c0c0c0"/>
<rect x="708" y="658" width="1" height="52" fill="#c0c0c0"/>
<rect x="716" y="658" width="1" height="46" fill="#c0c0c0"/>
<rect x="724" y="658" width="1" height="39" fill="#c0c0c0"/>
<rect x="732" y="658" width="1" height="32" fill="#c0c0c0"/>
<rect x="740" y="658" width="1" height="22" fill="#c0c0c0"/>
<rect x="748" y="658" width="1" height="20" fill="#c0c0c0"/>
<rect x="756" y="658" width="1" height="14" fill="#c0c0c0"/>
<rect x="764" y="658" width="1" height="8" fill="#c0c0c0"/>
<rect x="772" y="658" width="1" height="1" fill="#c0c0c0"/>
<rect x="780" y="653" width="1" height="6" fill="#c0c0c0"/>
<rect x="788" y="649" width="1" height="10" fill="#c0c0c0"/>
<rect x="796" y="652" width="1" height="7" fill="#c0c0c0"/>
<rect x="804" y="652" width="1" height="7" fill="#c0c0c0"/>
<rect x="812" y="657" width="1" height="2" fill="#c0c0c0"/>
<rect x="820" y="658" width="1" height="1" fill="#c0c0c0"/>
<rect x="828" y="658" width="1" height="2" fill="#c0c0c0"/>
<rect x="836" y="658" width="1" height="2" fill="#c0c0c0"/>
<rect x="844" y="658" width="1" height="2" fill="#c0c0c0"/>
<rect x="852" y="655" width="1" height="4" fill="#c0c0c0"/>
<rect x="860" y="653" width="1" height="6" fill="#c0c0c0"/>
<rect x="868" y="655" width="1" height="4" fill="#c0c0c0"/>
<rect x="876" y="655" width="1" height="4" fill="#c0c0c0"/>
<rect x="884" y="657" width="1" height="2" fill="#c0c0c0"/>
<rect x="892" y="658" width="1" height="1" fill="#c0c0c0"/>
<rect x="900" y="658" width="1" height="7" fill="#c0c0c0"/>
<rect x="908" y="658" width="1" height="13" fill="#c0c0c0"/>
<rect x="916" y="658" width="1" height="15" fill="#c0c0c0"/>
<rect x="924" y="658" width="1" height="19" fill="#c0c0c0"/>
<rect x="932" y="658" width="1" height="21" fill="#c0c0c0"/>
<rect x="940" y="658" width="1" height="13" fill="#c0c0c0"/>
<rect x="948" y="658" width="1" height="16" fill="#c0c0c0"/>
<rect x="956" y="658" width="1" height="14" fill="#c0c0c0"/>
<rect x="964" y="658" width="1" height="14" fill="#c0c0c0"/>
<rect x="972" y="658" width="1" height="12" fill="#c0c0c0"/>
<rect x="980" y="657" width="1" height="2" fill="#c0c0c0"/>
<rect x="988" y="640" width="1" height="19" fill="#c0c0c0"/>
<rect x="996" y="629" width="1" height="30" fill="#c0c0c0"/>
<rect x="1004" y="628" width="1" height="31" fill="#c0c0c0"/>
<rect x="1012" y="628" width="1" height="31" fill="#c0c0c0"/>
<rect x="1020" y="625" width="1" height="34" fill="#c0c0c0"/>
<rect x="1028" y="624" width="1" height="35" fill="#c0c0c0"/>
<rect x="1036" y="625" width="1" height="34" fill="#c0c0c0"/>
<rect x="1044" y="628" width="1" height="31" fill="#c0c0c0"/>
<rect x="1052" y="631" width="1" height="28" fill="#c0c0c0"/>
<rect x="1060" y="632" width="1" height="27" fill="#c0c0c0"/>
<rect x="1068" y="632" width="1" height="27" fill="#c0c0c0"/>
<rect x="1076" y="626" width="1" height="33" fill="#c0c0c0"/>
<rect x="1084" y="620" width="1" height="39" fill="#c0c0c0"/>
<rect x="1092" y="616" width="1" height="43" fill="#c0c0c0"/>
<rect x="1100" y="615" width="1" height="44" fill="#c0c0c0"/>
<rect x="1108" y="619" width="1" height="40" fill="#c0c0c0"/>
<rect x="1116" y="621" width="1" height="38" fill="#c0c0c0"/>
<rect x="1124" y="622" width="1" height="37" fill="#c0c0c0"/>
<rect x="1132" y="618" width="1" height="41" fill="#c0c0c0"/>
<rect x="1140" y="617" width="1" height="42" fill="#c0c0c0"/>
<rect x="1148" y="617" width="1" height="42" fill="#c0c0c0"/>
<rect x="1156" y="616" width="1" height="43" fill="#c0c0c0"/>
<rect x="1164" y="616" width="1" height="43" fill="#c0c0c0"/>
<rect x="1172" y="621" width="1" height="38" fill="#c0c0c0"/>
<rect x="1180" y="624" width="1" height="35" fill="#c0c0c0"/>
<rect x="1188" y="626" width="1" height="33" fill="#c0c0c0"/>
<rect x="1196" y="632" width="1" height="27" fill="#c0c0c0"/>
<rect x="1204" y="642" width="1" height="17" fill="#c0c0c0"/>
<rect x="1212" y="645" width="1" height="14" fill="#c0c0c0"/>
<rect x="1220" y="648" width="1" height="11" fill="#c0c0c0"/>
<rect x="1228" y="645" width="1" height="14" fill="#c0c0c0"/>
<rect x="1236" y="642" width="1" height="17" fill="#c0c0c0"/>
<rect x="1244" y="639" width="1" height="20" fill="#c0c0c0"/>
<rect x="1252" y="638" width="1" height="21" fill="#c0c0c0"/>
<rect x="1260" y="642" width="1" height="17" fill="#c0c0c0"/>
<rect x="1268" y="644" width="1" height="15" fill="#c0c0c0"/>
<rect x="1276" y="647" width="1" height="12" fill="#c0c0c0"/>
<rect x="1284" y="644" width="1" height="15" fill="#c0c0c0"/>
<rect x="1292" y="639" width="1" height="20" fill="#c0c0c0"/>
<rect x="1300" y="635" width="1" height="24" fill="#c0c0c0"/>
<rect x="1308" y="636" width="1" height="23" fill="#c0c0c0"/>
<rect x="1316" y="636" width="1" height="23" fill="#c0c0c0"/>
<rect x="1324" y="633" width="1" height="26" fill="#c0c0c0"/>
<rect x="1332" y="627" width="1" height="32" fill="#c0c0c0"/>
<rect x="1340" y="623" width="1" height="36" fill="#c0c0c0"/>
<rect x="1348" y="627" width="1" height="32" fill="#c0c0c0"/>
<rect x="1356" y="630" width="1" height="29" fill="#c0c0c0"/>
<rect x="1364" y="631" width="1" height="28" fill="#c0c0c0"/>
<rect x="1372" y="629" width="1" height="30" fill="#c0c0c0"/>
<rect x="1380" y="628" width="1" height="31" fill="#c0c0c0"/>
<rect x="1388" y="628" width="1" height="31" fill="#c0c0c0"/>
<rect x="1396" y="629" width="1" height="30" fill="#c0c0c0"/>
<rect x="1404" y="624" width="1" height="35" fill="#c0c0c0"/>
<rect x="1412" y="621" width="1" height="38" fill="#c0c0c0"/>
<rect x="1420" y="618" width="1" height="41" fill="#c0c0c0"/>
<rect x="1428" y="621" width="1" height="38" fill="#c0c0c0"/>
<rect x="1436" y="625" width="1" height="34" fill="#c0c0c0"/>
<rect x="1444" y="628" width="1" height="31" fill="#c0c0c0"/>
</g>
<g clip-path="url(#cd)"><polyline points="-3.5,597.0 4.5,609.0 12.5,622.0 20.5,630.0 28.5,638.5 36.5,646.5 44.5,654.0 52.5,662.0 60.5,668.5 68.5,675.2 76.5,678.6 84.5,679.9 92.5,680.4 100.5,680.1 108.5,678.9 116.5,677.1 124.5,674.0 132.5,669.7 140.5,664.7 148.5,660.0 156.5,655.6 164.5,651.9 172.5,648.6 180.5,646.0 188.5,643.7 196.5,642.4 204.5,641.9 212.5,641.5 220.5,640.7 228.5,639.5 236.5,638.1 244.5,636.7 252.5,635.3 260.5,634.0 268.5,632.3 276.5,630.4 284.5,628.3 292.5,625.6 300.5,622.5 308.5,619.0 316.5,615.2 324.5,611.1 332.5,606.7 340.5,602.5 348.5,598.8 356.5,595.8 364.5,594.0 372.5,592.9 380.5,592.1 388.5,591.6 396.5,591.2 404.5,591.6 412.5,592.0 420.5,592.6 428.5,593.1 436.5,594.6 444.5,596.8 452.5,600.1 460.5,603.0 468.5,605.8 476.5,607.5 484.5,608.8 492.5,609.3 500.5,609.1 508.5,607.7 516.5,605.3 524.5,602.9 532.5,600.9 540.5,599.5 548.5,599.6 556.5,602.1 564.5,606.4 572.5,613.5 580.5,623.1 588.5,634.4 596.5,646.2 604.5,658.6 612.5,670.9 620.5,682.7 628.5,693.0 636.5,702.2 644.5,710.0 652.5,716.5 660.5,722.1 668.5,726.5 676.5,730.0 684.5,732.7 692.5,734.0 700.5,733.7 708.5,732.0 716.5,728.9 724.5,724.2 732.5,718.4 740.5,711.5 748.5,704.6 756.5,697.4 764.5,690.6 772.5,683.8 780.5,677.4 788.5,671.3 796.5,666.3 804.5,662.1 812.5,659.6 820.5,657.4 828.5,656.1 836.5,655.5 844.5,655.6 852.5,655.9 860.5,656.3 868.5,656.6 876.5,657.0 884.5,657.0 892.5,657.1 900.5,657.6 908.5,658.8 916.5,660.3 924.5,662.7 932.5,665.6 940.5,667.4 948.5,669.4 956.5,671.1 964.5,672.4 972.5,673.0 980.5,671.4 988.5,667.8 996.5,662.5 1004.5,656.8 1012.5,652.0 1020.5,646.7 1028.5,641.4 1036.5,636.2 1044.5,631.5 1052.5,628.6 1060.5,627.7 1068.5,628.1 1076.5,627.9 1084.5,627.0 1092.5,626.0 1100.5,625.0 1108.5,624.4 1116.5,623.7 1124.5,622.7 1132.5,621.1 1140.5,619.4 1148.5,618.4 1156.5,617.8 1164.5,617.9 1172.5,618.5 1180.5,619.1 1188.5,619.6 1196.5,620.7 1204.5,623.4 1212.5,626.5 1220.5,630.0 1228.5,633.3 1236.5,636.2 1244.5,638.1 1252.5,639.7 1260.5,641.5 1268.5,642.9 1276.5,643.5 1284.5,643.3 1292.5,642.4 1300.5,641.2 1308.5,640.5 1316.5,640.3 1324.5,639.7 1332.5,638.0 1340.5,635.6 1348.5,633.3 1356.5,631.8 1364.5,630.9 1372.5,630.3 1380.5,629.4 1388.5,628.5 1396.5,628.0 1404.5,627.7 1412.5,627.5 1420.5,626.6 1428.5,625.6 1436.5,624.9 1444.5,624.7" fill="none" stroke="#ff0000" stroke-width="1" shape-rendering="crispEdges" stroke-dasharray="4 2"/></g>
<g shape-rendering="crispEdges">
<line x1="0" x2="1686" y1="788.5" y2="788.5" stroke="#c0c0c0" stroke-dasharray="3 3" stroke-dashoffset="3"/>
<line x1="0" x2="1686" y1="839.5" y2="839.5" stroke="#c0c0c0" stroke-dasharray="3 3" stroke-dashoffset="3"/>
<line x1="0" x2="1686" y1="900.5" y2="900.5" stroke="#c0c0c0" stroke-dasharray="3 3" stroke-dashoffset="3"/>
</g>
<g clip-path="url(#cr)"><polyline points="-3.5,851.0 4.5,857.3 12.5,858.0 20.5,843.5 28.5,846.0 36.5,849.1 44.5,846.4 52.5,852.6 60.5,852.1 68.5,851.0 76.5,838.4 84.5,838.0 92.5,836.5 100.5,835.3 108.5,834.3 116.5,835.3 124.5,827.1 132.5,823.3 140.5,825.5 148.5,827.7 156.5,828.1 164.5,833.2 172.5,831.5 180.5,834.7 188.5,832.8 196.5,838.3 204.5,834.5 212.5,820.0 220.5,816.6 228.5,812.6 236.5,820.1 244.5,827.8 252.5,827.6 260.5,826.2 268.5,823.6 276.5,817.2 284.5,806.3 292.5,795.9 300.5,795.3 308.5,796.3 316.5,806.2 324.5,803.0 332.5,801.6 340.5,811.2 348.5,814.1 356.5,808.9 364.5,805.0 372.5,801.1 380.5,797.4 388.5,805.3 396.5,803.5 404.5,819.8 412.5,813.6 420.5,821.7 428.5,814.4 436.5,833.6 444.5,832.9 452.5,833.8 460.5,817.9 468.5,817.2 476.5,809.5 484.5,811.9 492.5,809.2 500.5,803.0 508.5,801.0 516.5,804.1 524.5,823.6 532.5,819.0 540.5,824.4 548.5,837.9 556.5,862.6 564.5,854.3 572.5,868.9 580.5,870.1 588.5,867.5 596.5,868.2 604.5,868.5 612.5,863.3 620.5,865.8 628.5,871.1 636.5,870.2 644.5,877.3 652.5,879.3 660.5,879.2 668.5,868.5 676.5,869.0 684.5,863.2 692.5,848.0 700.5,845.4 708.5,841.7 716.5,844.4 724.5,840.0 732.5,838.3 740.5,826.0 748.5,843.3 756.5,834.2 764.5,830.3 772.5,824.9 780.5,826.3 788.5,826.7 796.5,843.4 804.5,838.3 812.5,848.6 820.5,843.9 828.5,843.9 836.5,840.4 844.5,838.9 852.5,828.4 860.5,832.5 868.5,842.3 876.5,840.1 884.5,843.3 892.5,846.3 900.5,855.8 908.5,859.3 916.5,851.4 924.5,857.2 932.5,854.4 940.5,828.8 948.5,849.0 956.5,840.9 964.5,843.8 972.5,840.8 980.5,819.6 988.5,812.3 996.5,814.6 1004.5,830.7 1012.5,831.2 1020.5,826.7 1028.5,828.7 1036.5,829.9 1044.5,834.8 1052.5,836.5 1060.5,832.8 1068.5,830.2 1076.5,818.9 1084.5,816.1 1092.5,815.3 1100.5,823.1 1108.5,834.0 1116.5,830.2 1124.5,826.7 1132.5,818.1 1140.5,823.4 1148.5,823.4 1156.5,820.3 1164.5,822.5 1172.5,836.1 1180.5,832.7 1188.5,830.0 1196.5,841.5 1204.5,853.2 1212.5,841.5 1220.5,840.0 1228.5,831.0 1236.5,827.4 1244.5,824.7 1252.5,831.0 1260.5,842.2 1268.5,838.4 1276.5,841.5 1284.5,828.1 1292.5,823.3 1300.5,822.2 1308.5,833.6 1316.5,832.4 1324.5,824.0 1332.5,817.2 1340.5,817.4 1348.5,835.4 1356.5,836.1 1364.5,830.9 1372.5,825.8 1380.5,824.6 1388.5,828.2 1396.5,827.0 1404.5,816.3 1412.5,817.8 1420.5,814.8 1428.5,831.2 1436.5,832.2 1444.5,833.9" fill="none" stroke="#1e90ff" stroke-width="1" shape-rendering="crispEdges" /></g>
<rect x="1731" y="23" width="2" height="924" fill="#e4e4e4"/>
<path d="M0 32.8 H2 L2.5 31.8 L3.5 32.8 L4.5 33.8 L6 35 V36 H1 V35.2 H0 Z" fill="#000" shape-rendering="crispEdges"/>
<text x="11.3" y="36.6" font-size="9" fill="#000" textLength="62.4" lengthAdjust="spacingAndGlyphs" >GBPJPY-,Daily</text>
<text x="80.3" y="36.6" font-size="9" fill="#000" textLength="140" lengthAdjust="spacingAndGlyphs" >141.004 141.068 140.336 140.811</text>
<text x="0.5" y="592.5" font-size="9" fill="#000" textLength="127" lengthAdjust="spacingAndGlyphs" >MACD(12,26,9) 0.4924 0.5326</text>
<text x="0.5" y="764.5" font-size="9" fill="#000" textLength="67.3" lengthAdjust="spacingAndGlyphs" >RSI(14) 53.2619</text>
<g shape-rendering="crispEdges">
<rect x="1687" y="47" width="2" height="1" fill="#000"/>
<text x="1692.3" y="51" font-size="9" fill="#000" textLength="32" lengthAdjust="spacingAndGlyphs" >142.810</text>
<rect x="1687" y="80" width="2" height="1" fill="#000"/>
<text x="1692.3" y="84" font-size="9" fill="#000" textLength="32" lengthAdjust="spacingAndGlyphs" >142.110</text>
<rect x="1687" y="113" width="2" height="1" fill="#000"/>
<text x="1692.3" y="117" font-size="9" fill="#000" textLength="32" lengthAdjust="spacingAndGlyphs" >141.410</text>
<rect x="1687" y="146" width="2" height="1" fill="#000"/>
<text x="1692.3" y="150" font-size="9" fill="#000" textLength="32" lengthAdjust="spacingAndGlyphs" >140.690</text>
<rect x="1687" y="179" width="2" height="1" fill="#000"/>
<text x="1692.3" y="183" font-size="9" fill="#000" textLength="32" lengthAdjust="spacingAndGlyphs" >139.990</text>
<rect x="1687" y="212" width="2" height="1" fill="#000"/>
<text x="1692.3" y="216" font-size="9" fill="#000" textLength="32" lengthAdjust="spacingAndGlyphs" >139.290</text>
<rect x="1687" y="245" width="2" height="1" fill="#000"/>
<text x="1692.3" y="249" font-size="9" fill="#000" textLength="32" lengthAdjust="spacingAndGlyphs" >138.570</text>
<rect x="1687" y="278" width="2" height="1" fill="#000"/>
<text x="1692.3" y="282" font-size="9" fill="#000" textLength="32" lengthAdjust="spacingAndGlyphs" >137.870</text>
<rect x="1687" y="311" width="2" height="1" fill="#000"/>
<text x="1692.3" y="315" font-size="9" fill="#000" textLength="32" lengthAdjust="spacingAndGlyphs" >137.170</text>
<rect x="1687" y="344" width="2" height="1" fill="#000"/>
<text x="1692.3" y="348" font-size="9" fill="#000" textLength="32" lengthAdjust="spacingAndGlyphs" >136.470</text>
<rect x="1687" y="377" width="2" height="1" fill="#000"/>
<text x="1692.3" y="381" font-size="9" fill="#000" textLength="32" lengthAdjust="spacingAndGlyphs" >135.750</text>
<rect x="1687" y="410" width="2" height="1" fill="#000"/>
<text x="1692.3" y="414" font-size="9" fill="#000" textLength="32" lengthAdjust="spacingAndGlyphs" >135.050</text>
<rect x="1687" y="443" width="2" height="1" fill="#000"/>
<text x="1692.3" y="447" font-size="9" fill="#000" textLength="32" lengthAdjust="spacingAndGlyphs" >134.350</text>
<rect x="1687" y="476" width="2" height="1" fill="#000"/>
<text x="1692.3" y="480" font-size="9" fill="#000" textLength="32" lengthAdjust="spacingAndGlyphs" >133.630</text>
<rect x="1687" y="509" width="2" height="1" fill="#000"/>
<text x="1692.3" y="513" font-size="9" fill="#000" textLength="32" lengthAdjust="spacingAndGlyphs" >132.930</text>
<rect x="1687" y="542" width="2" height="1" fill="#000"/>
<text x="1692.3" y="546" font-size="9" fill="#000" textLength="32" lengthAdjust="spacingAndGlyphs" >132.230</text>
<rect x="1687" y="574" width="2" height="1" fill="#000"/>
<text x="1692.3" y="578" font-size="9" fill="#000" textLength="32" lengthAdjust="spacingAndGlyphs" >131.530</text>
</g>
<g shape-rendering="crispEdges">
<rect x="1687" y="658" width="2" height="1" fill="#000"/>
</g>
<text x="1691.5" y="590.5" font-size="9" fill="#000" textLength="27.5" lengthAdjust="spacingAndGlyphs" >1.2152</text>
<text x="1692" y="662" font-size="9" fill="#000" textLength="16.5" lengthAdjust="spacingAndGlyphs" >0.00</text>
<text x="1690" y="746.5" font-size="9" fill="#000" textLength="30" lengthAdjust="spacingAndGlyphs" >-1.4437</text>
<text x="1692" y="762.5" font-size="9" fill="#000" >100</text>
<text x="1692" y="791.5" font-size="9" fill="#000" >80</text>
<text x="1692" y="842.5" font-size="9" fill="#000" >50</text>
<text x="1692" y="903.5" font-size="9" fill="#000" >15</text>
<text x="1692" y="922.5" font-size="9" fill="#000" >0</text>
<g shape-rendering="crispEdges">
<rect x="1687" y="788" width="2" height="1" fill="#000"/>
<rect x="1687" y="839" width="2" height="1" fill="#000"/>
<rect x="1687" y="900" width="2" height="1" fill="#000"/>
</g>
<g shape-rendering="crispEdges">
<rect x="60" y="927" width="1" height="4" fill="#000"/>
<rect x="124" y="927" width="1" height="4" fill="#000"/>
<rect x="188" y="927" width="1" height="4" fill="#000"/>
<rect x="252" y="927" width="1" height="4" fill="#000"/>
<rect x="316" y="927" width="1" height="4" fill="#000"/>
<rect x="380" y="927" width="1" height="4" fill="#000"/>
<rect x="444" y="927" width="1" height="4" fill="#000"/>
<rect x="508" y="927" width="1" height="4" fill="#000"/>
<rect x="572" y="927" width="1" height="4" fill="#000"/>
<rect x="636" y="927" width="1" height="4" fill="#000"/>
<rect x="700" y="927" width="1" height="4" fill="#000"/>
<rect x="764" y="927" width="1" height="4" fill="#000"/>
<rect x="828" y="927" width="1" height="4" fill="#000"/>
<rect x="892" y="927" width="1" height="4" fill="#000"/>
<rect x="956" y="927" width="1" height="4" fill="#000"/>
<rect x="1020" y="927" width="1" height="4" fill="#000"/>
<rect x="1084" y="927" width="1" height="4" fill="#000"/>
<rect x="1148" y="927" width="1" height="4" fill="#000"/>
<rect x="1212" y="927" width="1" height="4" fill="#000"/>
<rect x="1276" y="927" width="1" height="4" fill="#000"/>
<rect x="1340" y="927" width="1" height="4" fill="#000"/>
<rect x="1404" y="927" width="1" height="4" fill="#000"/>
</g>
<text x="-5.2" y="939" font-size="9" fill="#000" >18 Jun 2020</text>
<text x="58.8" y="939" font-size="9" fill="#000" >28 Jun 2020</text>
<text x="122.8" y="939" font-size="9" fill="#000" >7 Jul 2020</text>
<text x="186.8" y="939" font-size="9" fill="#000" >16 Jul 2020</text>
<text x="250.8" y="939" font-size="9" fill="#000" >26 Jul 2020</text>
<text x="314.8" y="939" font-size="9" fill="#000" >4 Aug 2020</text>
<text x="378.8" y="939" font-size="9" fill="#000" >13 Aug 2020</text>
<text x="442.8" y="939" font-size="9" fill="#000" >23 Aug 2020</text>
<text x="506.8" y="939" font-size="9" fill="#000" >1 Sep 2020</text>
<text x="570.8" y="939" font-size="9" fill="#000" >10 Sep 2020</text>
<text x="634.8" y="939" font-size="9" fill="#000" >20 Sep 2020</text>
<text x="698.8" y="939" font-size="9" fill="#000" >29 Sep 2020</text>
<text x="762.8" y="939" font-size="9" fill="#000" >8 Oct 2020</text>
<text x="826.8" y="939" font-size="9" fill="#000" >18 Oct 2020</text>
<text x="890.8" y="939" font-size="9" fill="#000" >27 Oct 2020</text>
<text x="954.8" y="939" font-size="9" fill="#000" >5 Nov 2020</text>
<text x="1018.8" y="939" font-size="9" fill="#000" >15 Nov 2020</text>
<text x="1082.8" y="939" font-size="9" fill="#000" >24 Nov 2020</text>
<text x="1146.8" y="939" font-size="9" fill="#000" >3 Dec 2020</text>
<text x="1210.8" y="939" font-size="9" fill="#000" >13 Dec 2020</text>
<text x="1274.8" y="939" font-size="9" fill="#000" >22 Dec 2020</text>
<text x="1338.8" y="939" font-size="9" fill="#000" >3 Jan 2021</text>
<text x="1402.8" y="939" font-size="9" fill="#000" >12 Jan 2021</text>
<g shape-rendering="crispEdges">
<rect x="1688" y="92" width="41" height="11" fill="#ff0000"/>
<rect x="1688" y="107" width="41" height="11" fill="#ff0000"/>
<rect x="1688" y="124" width="41" height="11" fill="#33cc33"/>
<rect x="1688" y="136" width="41" height="11" fill="#000000"/>
<rect x="1688" y="151" width="41" height="11" fill="#0000ff"/>
<rect x="1688" y="169" width="41" height="11" fill="#0000ff"/>
</g>
<text x="1692.3" y="101" font-size="9" fill="#fff" textLength="32" lengthAdjust="spacingAndGlyphs" >141.713</text>
<text x="1692.3" y="116" font-size="9" fill="#fff" textLength="32" lengthAdjust="spacingAndGlyphs" >141.393</text>
<text x="1692.3" y="133" font-size="9" fill="#fff" textLength="32" lengthAdjust="spacingAndGlyphs" >141.031</text>
<text x="1692.3" y="145" font-size="9" fill="#fff" textLength="32" lengthAdjust="spacingAndGlyphs" >140.811</text>
<text x="1692.3" y="160" font-size="9" fill="#fff" textLength="32" lengthAdjust="spacingAndGlyphs" >140.454</text>
<text x="1692.3" y="178" font-size="9" fill="#fff" textLength="32" lengthAdjust="spacingAndGlyphs" >140.070</text>
<g shape-rendering="crispEdges" fill="#fff" stroke="#0000ff">
<rect x="1681.5" y="155.5" width="4" height="4"/>
<rect x="0" y="155" width="1" height="5" fill="#0000ff" stroke="none"/>
<rect x="1681.5" y="173.5" width="4" height="4"/>
<rect x="0" y="173" width="1" height="5" fill="#0000ff" stroke="none"/>
</g>
<rect x="437.5" y="42.5" width="61" height="18" fill="#fff" stroke="#ff0000" stroke-width="1" shape-rendering="crispEdges"/><text x="439" y="58" font-size="16.8" fill="#ff0000" textLength="59" lengthAdjust="spacingAndGlyphs" >142.716</text>
<path d="M499 51.5 H508.5" stroke="#ff0000" shape-rendering="crispEdges"/>
<rect x="581.5" y="495.5" width="61" height="18" fill="#fff" stroke="#ff0000" stroke-width="1" shape-rendering="crispEdges"/><text x="583" y="511" font-size="16.8" fill="#ff0000" textLength="59" lengthAdjust="spacingAndGlyphs" >133.049</text>
<path d="M643 504.5 H652" stroke="#ff0000" shape-rendering="crispEdges"/>
<rect x="1341.5" y="65.5" width="61" height="19" fill="#fff" stroke="#ff0000" stroke-width="1" shape-rendering="crispEdges"/><text x="1343" y="81" font-size="16.8" fill="#ff0000" textLength="59" lengthAdjust="spacingAndGlyphs" >142.226</text>
<path d="M1403 74.5 H1412.5 V80" stroke="#ff0000" fill="none" shape-rendering="crispEdges"/>
<rect x="1197.5" y="313.5" width="61" height="18" fill="#fff" stroke="#ff0000" stroke-width="1" shape-rendering="crispEdges"/><text x="1199" y="329" font-size="16.8" fill="#ff0000" textLength="59" lengthAdjust="spacingAndGlyphs" >136.933</text>
<path d="M1259 322.5 H1268.5" stroke="#ff0000" shape-rendering="crispEdges"/><rect x="1204" y="313" width="1" height="17" fill="#000" shape-rendering="crispEdges"/>
<rect x="1215.5" y="118.5" width="73" height="24" fill="#fff" stroke="#ff0000" stroke-width="1" shape-rendering="crispEdges"/><text x="1216" y="139" font-size="22.5" fill="#ff0000" textLength="71.5" lengthAdjust="spacingAndGlyphs" >141.031</text>
<path d="M1205 130.5 H1212" stroke="#ff0000" shape-rendering="crispEdges"/><rect x="1212.5" y="128.5" width="2" height="3" fill="none" stroke="#ff0000" shape-rendering="crispEdges"/>
<rect x="1329" y="127" width="171" height="8" fill="#00ff00" shape-rendering="crispEdges"/>
<g stroke="#ff0000" stroke-width="3" fill="none" stroke-linecap="square" shape-rendering="crispEdges"><path d="M1264 296 L1422 80"/><path d="M1425 79 L1443 158"/></g><path d="M1424.5 76 L1413 84.5 L1424 89 Z" fill="#ff0000"/><path d="M1445 164 L1438 153.5 L1447.5 151 Z" fill="#ff0000"/>
<g stroke="#00ff00" stroke-width="1" fill="none" shape-rendering="crispEdges"><path d="M1503.3 92.4 L1495.7 98.5 M1501.7 95.5 H1510.2 L1495.7 102.5 M1498.5 98.5 L1501 100.5 M1505.3 102.7 H1511.4 L1494.8 110.6 M1502 100.5 L1496 106.6 M1500.5 105 L1502.5 107"/><path d="M1524 92 L1526 93.5 M1517.5 98.1 V95 H1534 V96.8 M1523.1 97.3 L1516.7 101.7 M1527.6 97.3 L1532.8 100.5 M1519 102.3 H1531.2 M1525.5 102.3 V109.4 M1516.3 109.4 H1534.4"/><path d="M1538.1 95.5 H1545.7 M1541.7 92.4 L1538.9 100.9 H1545.3 M1542.5 97.3 V111 M1537.7 106.4 L1546.5 104.6 M1547.4 96.3 H1556.2 M1551.6 92.2 L1549.4 103.8 M1547 100.1 H1556.6 M1547.4 103.3 H1554.6 L1548.6 106.6 L1553.8 110.6"/><path d="M1560.1 97.4 L1567.7 96.6 M1564.5 92.1 V110.2 L1561 109.6 M1560.4 102.9 L1567.7 100.4 M1577.9 93.1 L1569.6 94.3 Q1569.6 106 1565.5 110.5 M1569.6 98.8 L1579.1 99.1 M1574.7 99.1 V110.5"/><path d="M1591.2 92.1 V98.5 M1591.2 95.3 H1599.4 M1586.1 98.8 H1596.9 V104.5 H1586.1 Z M1585.2 107.7 L1583.3 110.2 M1588.7 107.4 L1590.2 109.3 M1593.1 107.4 L1594.4 109.3 M1597.5 106.7 L1599.4 109.6"/></g>
<defs><linearGradient id="gTop" x1="0" y1="0" x2="0" y2="1"><stop offset="0" stop-color="#5a5aff"/><stop offset="1" stop-color="#3636e0"/></linearGradient><linearGradient id="gBot" x1="0" y1="0" x2="0" y2="1"><stop offset="0" stop-color="#3838e6"/><stop offset="1" stop-color="#0000b0"/></linearGradient><linearGradient id="gBtn" x1="0" y1="0" x2="0" y2="1"><stop offset="0" stop-color="#f4f4f4"/><stop offset="0.45" stop-color="#e8e8e8"/><stop offset="0.5" stop-color="#d8d8d8"/><stop offset="1" stop-color="#d0d0d0"/></linearGradient></defs>
<g shape-rendering="crispEdges">
<rect x="51" y="45" width="115" height="24" fill="#fff"/>
<rect x="0" y="45" width="51" height="24" fill="#0000a0"/>
<rect x="0" y="46" width="50" height="23" fill="url(#gTop)"/>
<rect x="166" y="45" width="52" height="24" fill="#0000a0"/>
<rect x="167" y="46" width="50" height="23" fill="url(#gTop)"/>
<rect x="0" y="69" width="108" height="40" fill="#0000a0"/>
<rect x="0" y="70" width="107" height="39" fill="url(#gBot)"/>
<rect x="110" y="69" width="108" height="40" fill="#0000a0"/>
<rect x="110" y="70" width="107" height="39" fill="url(#gBot)"/>
<rect x="0" y="68" width="50" height="2" fill="#3434dc"/>
<rect x="167" y="68" width="50" height="2" fill="#3434dc"/>
<rect x="3" y="68" width="44" height="1" fill="#0000a0"/><rect x="3" y="69" width="44" height="1" fill="#7070ff"/>
<rect x="170" y="68" width="44" height="1" fill="#0000a0"/><rect x="170" y="69" width="44" height="1" fill="#7070ff"/>
<rect x="108" y="69" width="2" height="40" fill="#fff"/>
<rect x="53" y="45" width="111" height="22" fill="#a8a8a8"/>
<rect x="54" y="46" width="109" height="20" fill="#fff"/>
<rect x="55" y="47" width="18" height="18" fill="url(#gBtn)"/>
<rect x="74" y="46" width="1" height="20" fill="#a8a8a8"/>
<rect x="142" y="46" width="1" height="20" fill="#a8a8a8"/>
<rect x="144" y="47" width="18" height="18" fill="url(#gBtn)"/>
</g>
<path d="M61 54 H66 L63.5 57 Z" fill="#5a6ad8"/>
<path d="M150.5 57 H155.5 L153 54 Z" fill="#5a6ad8"/>
<text x="115.5" y="59.7" font-size="12" fill="#000" textLength="23" lengthAdjust="spacingAndGlyphs">1.00</text>
<text x="11.8" y="60.9" font-size="12" fill="#fff" textLength="25.2" lengthAdjust="spacingAndGlyphs">SELL</text>
<text x="179.8" y="60.8" font-size="12" fill="#fff" textLength="23" lengthAdjust="spacingAndGlyphs">BUY</text>
<text x="22.9" y="99.9" font-size="12" fill="#fff" textLength="19.7" lengthAdjust="spacingAndGlyphs" font-weight="bold">140</text>
<text x="47.5" y="99.9" font-size="35" fill="#fff" font-family="Liberation Serif" textLength="33.3" lengthAdjust="spacingAndGlyphs">81</text>
<text x="86.4" y="84" font-size="12" fill="#fff" textLength="6.4" lengthAdjust="spacingAndGlyphs" font-weight="bold">1</text>
<text x="132.9" y="99.6" font-size="12" fill="#fff" textLength="19.9" lengthAdjust="spacingAndGlyphs" font-weight="bold">140</text>
<text x="158.2" y="99.6" font-size="35" fill="#fff" font-family="Liberation Serif" textLength="34.2" lengthAdjust="spacingAndGlyphs">96</text>
<text x="197.6" y="83.8" font-size="12" fill="#fff" textLength="6.6" lengthAdjust="spacingAndGlyphs" font-weight="bold">2</text>
<defs><pattern id="dots" width="2" height="2" patternUnits="userSpaceOnUse"><rect width="2" height="2" fill="#f7f7f7"/><rect width="1" height="1" fill="#e6e6e6"/><rect x="1" y="1" width="1" height="1" fill="#e6e6e6"/></pattern><linearGradient id="gGreen" x1="0" y1="0" x2="0" y2="1"><stop offset="0" stop-color="#90ff90"/><stop offset="1" stop-color="#00c020"/></linearGradient><linearGradient id="gGold" x1="0" y1="0" x2="1" y2="1"><stop offset="0" stop-color="#ffe060"/><stop offset="1" stop-color="#c08010"/></linearGradient><radialGradient id="gRed" cx="0.4" cy="0.3" r="0.7"><stop offset="0" stop-color="#f06040"/><stop offset="1" stop-color="#d82010"/></radialGradient></defs>
<g shape-rendering="crispEdges">
<rect x="47" y="0" width="1" height="21" fill="#a0a0a0"/><rect x="48" y="0" width="1" height="21" fill="#fff"/>
<rect x="283" y="0" width="1" height="21" fill="#a0a0a0"/><rect x="284" y="0" width="1" height="21" fill="#fff"/>
<rect x="321" y="0" width="1" height="21" fill="#a0a0a0"/><rect x="322" y="0" width="1" height="21" fill="#fff"/>
<rect x="378" y="0" width="1" height="21" fill="#a0a0a0"/><rect x="379" y="0" width="1" height="21" fill="#fff"/>
<rect x="468" y="0" width="1" height="21" fill="#a0a0a0"/><rect x="469" y="0" width="1" height="21" fill="#fff"/>
<rect x="473" y="0" width="1" height="21" fill="#a0a0a0"/><rect x="474" y="0" width="1" height="21" fill="#fff"/>
<rect x="501" y="0" width="1" height="21" fill="#a0a0a0"/><rect x="502" y="0" width="1" height="21" fill="#fff"/>
<rect x="530" y="0" width="1" height="21" fill="#a0a0a0"/><rect x="531" y="0" width="1" height="21" fill="#fff"/>
<rect x="651" y="0" width="1" height="21" fill="#a0a0a0"/><rect x="652" y="0" width="1" height="21" fill="#fff"/>
<rect x="661" y="0" width="1" height="21" fill="#a0a0a0"/><rect x="662" y="0" width="1" height="21" fill="#fff"/>
<rect x="718" y="0" width="1" height="21" fill="#a0a0a0"/><rect x="719" y="0" width="1" height="21" fill="#fff"/>
<rect x="957" y="0" width="1" height="21" fill="#a0a0a0"/><rect x="958" y="0" width="1" height="21" fill="#fff"/>
<rect x="1218" y="0" width="1" height="21" fill="#a0a0a0"/><rect x="1219" y="0" width="1" height="21" fill="#fff"/>
<rect x="287" y="1" width="3" height="1" fill="#a8a8a8"/><rect x="287" y="3" width="3" height="1" fill="#a8a8a8"/><rect x="287" y="5" width="3" height="1" fill="#a8a8a8"/><rect x="287" y="7" width="3" height="1" fill="#a8a8a8"/><rect x="287" y="9" width="3" height="1" fill="#a8a8a8"/><rect x="287" y="11" width="3" height="1" fill="#a8a8a8"/><rect x="287" y="13" width="3" height="1" fill="#a8a8a8"/><rect x="287" y="15" width="3" height="1" fill="#a8a8a8"/><rect x="287" y="17" width="3" height="1" fill="#a8a8a8"/>
<rect x="653" y="1" width="3" height="1" fill="#a8a8a8"/><rect x="653" y="3" width="3" height="1" fill="#a8a8a8"/><rect x="653" y="5" width="3" height="1" fill="#a8a8a8"/><rect x="653" y="7" width="3" height="1" fill="#a8a8a8"/><rect x="653" y="9" width="3" height="1" fill="#a8a8a8"/><rect x="653" y="11" width="3" height="1" fill="#a8a8a8"/><rect x="653" y="13" width="3" height="1" fill="#a8a8a8"/><rect x="653" y="15" width="3" height="1" fill="#a8a8a8"/><rect x="653" y="17" width="3" height="1" fill="#a8a8a8"/>
<rect x="962" y="1" width="3" height="1" fill="#a8a8a8"/><rect x="962" y="3" width="3" height="1" fill="#a8a8a8"/><rect x="962" y="5" width="3" height="1" fill="#a8a8a8"/><rect x="962" y="7" width="3" height="1" fill="#a8a8a8"/><rect x="962" y="9" width="3" height="1" fill="#a8a8a8"/><rect x="962" y="11" width="3" height="1" fill="#a8a8a8"/><rect x="962" y="13" width="3" height="1" fill="#a8a8a8"/><rect x="962" y="15" width="3" height="1" fill="#a8a8a8"/><rect x="962" y="17" width="3" height="1" fill="#a8a8a8"/>
<rect x="1135" y="0" width="1" height="19" fill="#a0a0a0"/>
<rect x="322" y="0" width="24" height="19" fill="url(#dots)"/>
<rect x="474" y="0" width="24" height="19" fill="url(#dots)"/>
<rect x="502" y="0" width="24" height="19" fill="url(#dots)"/>
<rect x="662" y="0" width="24" height="19" fill="url(#dots)"/>
<rect x="1136" y="0" width="24" height="19" fill="url(#dots)"/>
</g>
<rect x="-3.5" y="2.5" width="13" height="13" rx="1.5" fill="#fff" stroke="#2a78c8" stroke-width="1"/><g fill="#cfe0fa" shape-rendering="crispEdges"><rect x="0" y="4" width="8" height="1"/><rect x="0" y="6" width="8" height="1"/><rect x="0" y="8" width="8" height="1"/><rect x="0" y="10" width="8" height="1"/></g>
<rect x="22.5" y="1.5" width="12" height="13" rx="1" fill="#fff" stroke="#a8a090"/><path d="M25.5 3 V12 M25 7.5 H28 M32 3 V7" stroke="#555" stroke-width="1" fill="none"/><path d="M34.5 13.5 L39 17.5" stroke="#c09010" stroke-width="2.6" stroke-linecap="round"/><circle cx="30.5" cy="10" r="5" fill="#dff4fa" stroke="#5a8ee0" stroke-width="1" stroke-dasharray="1.5 0.8"/><rect x="29" y="7" width="3" height="6" fill="#a8b8c0"/>
<path d="M57.5 1.5 H65.5 L69.5 5.5 V15.5 H57.5 Z" fill="#fff" stroke="#666" stroke-width="1"/><rect x="59" y="4" width="3" height="1.5" fill="#777"/><rect x="59" y="7.5" width="7" height="1" fill="#777"/><rect x="59" y="9.5" width="5" height="1" fill="#777"/><path d="M65.5 7.5 h3 v4 h4 v3 h-4 v4 h-3 v-4 h-4 v-3 h4 z" fill="url(#gGreen)" stroke="#007a00" stroke-width="1"/>
<g stroke="#000" stroke-width="1" fill="none"><path d="M79.3 1.8 V3 M76.3 3.5 H82 M77.5 4.5 L78 6 M81 4.5 L80.5 6 M76 6.5 H82.2 M76.8 8.5 H82 M79.3 6.5 V12.5 L78 12 M77.8 9.5 L76.3 11.5 M80.8 9.5 L82 11"/><path d="M87.5 2.2 L83.5 3.5 V8 Q83.5 11 82 12.8 M83.5 6.5 H88 M86.5 6.5 V12.8"/><path d="M89.7 2.3 L91 4.2 M89.2 6.5 H91 V11.5 L92.5 10 M92.5 3.5 H100 M96.4 3.5 V12.3 L94 12.3"/><path d="M103 2.2 L104 3.5 M108.6 2.2 L107.6 3.5 M101.7 4.3 H110.5 V8.5 H101.7 Z M101.7 6.3 H110.5 M106 4.3 V13 M100.1 10.4 H112"/></g>
<path d="M124.5 11.5 Q127 6 130.5 2.5 L139.5 9.5 Q136 13 132 17 Z" fill="url(#gGold)" stroke="#a86810" stroke-width="1"/><path d="M126 12 L132.5 16 M127.5 10.5 L133.5 14.5" stroke="#f8e8a0" stroke-width="0.8"/>
<path d="M154.5 2.5 L157 1 H163.5 V10 H154.5 Z" fill="#2090f0" stroke="#1a70c8" stroke-width="1"/><rect x="158" y="4" width="5" height="3" fill="#e0f0ff"/><g stroke="#4a6cb0" stroke-width="1.2" fill="#e8ecf4"><circle cx="156" cy="13.3" r="2.8"/><circle cx="160.5" cy="11.5" r="3.3"/><circle cx="164.8" cy="13.3" r="2.6"/><rect x="153.2" y="13" width="14.2" height="3.2" rx="1.5"/></g><g fill="#eef0f6"><circle cx="156" cy="13.3" r="2.2"/><circle cx="160.5" cy="11.5" r="2.7"/><circle cx="164.8" cy="13.3" r="2"/><rect x="154" y="13" width="12.6" height="2.6"/></g>
<g fill="none" stroke-width="1"><circle cx="188" cy="8.5" r="7.3" stroke="#8ab0e0"/><circle cx="188" cy="8.5" r="4.8" stroke="#6090d8"/><circle cx="188" cy="8.5" r="2.2" stroke="#2060d0" fill="#2060d0"/><path d="M188 15.8 A7.3 7.3 0 0 0 195.3 8.5" stroke="#50a050" stroke-width="1.5"/></g><rect x="187.5" y="9" width="1.5" height="8" fill="#20a020"/>
<path d="M208.5 8 L214.5 17 L221.5 8 Z" fill="#f0d860" stroke="#c0a030" stroke-width="0.8"/><ellipse cx="215" cy="6" rx="8" ry="2.6" fill="#60a8e0" stroke="#3080c0" stroke-width="0.8"/><ellipse cx="215" cy="4" rx="4" ry="3.2" fill="#80c0f0" stroke="#3080c0" stroke-width="0.8"/><circle cx="219.5" cy="13" r="4.4" fill="#d82010"/><rect x="218.2" y="11.7" width="2.6" height="2.6" fill="#fff"/>
<g stroke="#000" stroke-width="1" fill="none"><path d="M232.5 1.5 L232 4 M229.5 4.5 H238 V12.5 H229.5 Z M229.5 7 H238 M229.5 9.7 H238"/><path d="M241 3.5 H246 M240.5 6.5 H246.5 M244 7 L241.5 12 L246 11 M245.5 9.5 L246.5 12 M246.5 4.5 H251 V12 Q250.5 12.6 249.5 12.3 M248.7 2.3 Q248.5 9 244.5 12.8"/><path d="M257.7 2 L258.2 3.8 M252.3 4.5 H263.7 M255 6.5 L253.2 8.7 M260.4 6.5 L262.5 8.7 M262 9.5 Q258 12.5 252.3 12.8 M255 9.5 Q258 12 263.4 12.8"/><path d="M265.5 2.5 H273.5 V7.2 H265.5 Z M265.5 4.8 H273.5 M265 8.5 H274 Q274 12 272.5 12.6 M267.5 9 L265 12 M270 9 L267 12.6 M272.3 9 L269 12.6"/></g>
<path d="M301.5 3 V17 M299 14.5 H313" stroke="#555" stroke-width="1.2" fill="none"/><path d="M299.5 5.5 L301.5 3 L303.5 5.5 Z M310.5 12.5 L313 14.5 L310.5 16.5 Z" fill="#555"/>
<path d="M307.5 4 V13 M307.5 5.3 H310 M305 11.5 H307.5" stroke="#108010" stroke-width="1.3" fill="none"/>
<path d="M329.5 3 V17 M327 14.5 H341" stroke="#555" stroke-width="1.2" fill="none"/><path d="M327.5 5.5 L329.5 3 L331.5 5.5 Z M338.5 12.5 L341 14.5 L338.5 16.5 Z" fill="#555"/>
<path d="M335.5 1 V12.7" stroke="#108010" stroke-width="1.2"/><rect x="333.5" y="3.5" width="4" height="7" fill="url(#gGreen)" stroke="#108010" stroke-width="1"/>
<path d="M357.5 3 V17 M355 14.5 H369" stroke="#555" stroke-width="1.2" fill="none"/><path d="M355.5 5.5 L357.5 3 L359.5 5.5 Z M366.5 12.5 L369 14.5 L366.5 16.5 Z" fill="#555"/>
<path d="M356 11.5 Q359.5 5 362.3 6.2 Q364.5 7 367.8 10" stroke="#30a030" stroke-width="1.2" fill="none"/>
<path d="M396 10.8 L401.5 15.8" stroke="#b89010" stroke-width="2.6" stroke-linecap="round"/><path d="M396 10.8 L401.5 15.8" stroke="#f0e070" stroke-width="1" stroke-linecap="round"/><circle cx="393" cy="7.3" r="5.3" fill="#e0f6ff" stroke="#3a80d0" stroke-width="1.2"/><rect x="390" y="6.5" width="6" height="1.8" fill="#4a80b0"/><rect x="392.1" y="4.3" width="1.8" height="6" fill="#4a80b0"/>
<path d="M424 10.8 L429.5 15.8" stroke="#b89010" stroke-width="2.6" stroke-linecap="round"/><path d="M424 10.8 L429.5 15.8" stroke="#f0e070" stroke-width="1" stroke-linecap="round"/><circle cx="421" cy="7.3" r="5.3" fill="#e0f6ff" stroke="#3a80d0" stroke-width="1.2"/><rect x="418" y="6.5" width="6" height="1.8" fill="#4a80b0"/>
<g shape-rendering="crispEdges"><rect x="443" y="1" width="8" height="8" fill="#30a020"/><rect x="451" y="1" width="8" height="8" fill="#2050d0"/><rect x="443" y="9" width="8" height="8" fill="#2050d0"/><rect x="451" y="9" width="8" height="8" fill="#30a020"/><g fill="#fff"><rect x="444" y="4" width="6" height="3"/><rect x="452" y="4" width="6" height="3"/><rect x="444" y="12" width="6" height="3"/><rect x="452" y="12" width="6" height="3"/></g></g>
<path d="M481.5 3 V17 M479.5 14.5 H493" stroke="#555" stroke-width="1.2" fill="none"/><path d="M479.5 5.5 L481.5 3 L483.5 5.5 Z M490.5 12.5 L493 14.5 L490.5 16.5 Z" fill="#555"/>
<path d="M486.5 5.5 L490 8.5 L486.5 11.5 Z" fill="#70e070" stroke="#109010" stroke-width="1"/>
<path d="M509.5 3 V17 M507.5 14.5 H521" stroke="#555" stroke-width="1.2" fill="none"/><path d="M507.5 5.5 L509.5 3 L511.5 5.5 Z M518.5 12.5 L521 14.5 L518.5 16.5 Z" fill="#555"/>
<rect x="515" y="3" width="1" height="10" fill="#1060a0"/><path d="M516.5 8.5 L519 6.5 V7.8 H521 V9.2 H519 V10.5 Z" fill="#e04010"/>
<path d="M540.5 1.5 H548.5 L551.5 4.5 V14.5 H540.5 Z" fill="#fff" stroke="#777" stroke-width="1"/><path d="M545 4 Q543 4 543 6 V12 M542 7.5 H545" stroke="#555" stroke-width="0.9" fill="none"/><path d="M548.5 7 h3 v4 h4 v3 h-4 v4 h-3 v-4 h-4 v-3 h4 z" fill="url(#gGreen)" stroke="#007a00" stroke-width="1"/>
<path d="M562 8 H567.5 L564.75 11 Z" fill="#000"/>
<path d="M601 8 H606.5 L603.75 11 Z" fill="#000"/>
<path d="M640 8 H645.5 L642.75 11 Z" fill="#000"/>
<circle cx="586" cy="9" r="7" fill="#fff" stroke="#1262c0" stroke-width="2.6"/><circle cx="586" cy="9" r="5.6" fill="none" stroke="#9cc4f0" stroke-width="0.6"/><g fill="#888"><rect x="585.6" y="4.2" width="0.8" height="0.8"/><rect x="590" y="8.6" width="0.8" height="0.8"/><rect x="581.2" y="8.6" width="0.8" height="0.8"/><rect x="585.6" y="13" width="0.8" height="0.8"/></g><path d="M585.5 4.5 V9.5 H589" stroke="#222" stroke-width="1.1" fill="none"/>
<rect x="617.5" y="2.5" width="15" height="13" fill="#fff" stroke="#2a6cc0"/><rect x="618" y="3" width="14" height="2" fill="#a8c8f0"/><path d="M619 8.5 L621 8 L623 7 L625 7.5 L627 7 L629 6.5 L631 6" stroke="#b02000" stroke-width="1" fill="none"/><rect x="618" y="10" width="14" height="1" fill="#90b0e0"/><path d="M619 13.5 L621 13 L623 13.5 L625 12.5 L627 13 L629 11.5 L631 13.5" stroke="#20a020" stroke-width="1" fill="none"/>
<path d="M669.5 2 L669.5 13 L672 10.5 L674.5 15.5 L676 14.8 L673.8 10 L677 10 Z" fill="#444"/>
<path d="M701.5 2 V16.5 M694 9.5 H709" stroke="#444" stroke-width="1" shape-rendering="crispEdges"/><rect x="701" y="9" width="1" height="1" fill="#f0f0f0"/>
<rect x="735" y="3" width="1.2" height="13" fill="#444"/><rect x="758" y="9" width="12" height="1.2" fill="#444"/><path d="M785.5 16 L798 3.8" stroke="#444" stroke-width="1.1"/>
<path d="M812 15 L825 2 M815 17 L827 5" stroke="#444" stroke-width="1"/><path d="M815 9 L817 12 M818 6 L820 9 M821 3 L823 6 M814 12 H818 M817 9 H821 M820 6 H824" stroke="#555" stroke-width="0.9"/>
<text x="823" y="17.5" font-size="7" fill="#444" font-weight="bold">E</text>
<g fill="#666" shape-rendering="crispEdges"><rect x="841" y="2" width="1" height="1"/><rect x="843" y="2" width="1" height="1"/><rect x="845" y="2" width="1" height="1"/><rect x="847" y="2" width="1" height="1"/><rect x="849" y="2" width="1" height="1"/><rect x="851" y="2" width="1" height="1"/><rect x="853" y="2" width="1" height="1"/><rect x="841" y="5" width="1" height="1"/><rect x="843" y="5" width="1" height="1"/><rect x="845" y="5" width="1" height="1"/><rect x="847" y="5" width="1" height="1"/><rect x="849" y="5" width="1" height="1"/><rect x="851" y="5" width="1" height="1"/><rect x="853" y="5" width="1" height="1"/><rect x="841" y="9" width="1" height="1"/><rect x="843" y="9" width="1" height="1"/><rect x="845" y="9" width="1" height="1"/><rect x="847" y="9" width="1" height="1"/><rect x="849" y="9" width="1" height="1"/><rect x="851" y="9" width="1" height="1"/><rect x="853" y="9" width="1" height="1"/><rect x="841" y="13" width="1" height="1"/><rect x="843" y="13" width="1" height="1"/><rect x="845" y="13" width="1" height="1"/><rect x="847" y="13" width="1" height="1"/><rect x="849" y="13" width="1" height="1"/><rect x="851" y="13" width="1" height="1"/><rect x="853" y="13" width="1" height="1"/></g>
<text x="851" y="17.5" font-size="7" fill="#444" font-weight="bold">F</text>
<text x="871.5" y="14.5" font-size="12" fill="#555" textLength="8" lengthAdjust="spacingAndGlyphs">A</text>
<g fill="#666" shape-rendering="crispEdges"><rect x="898" y="3" width="1" height="1"/><rect x="898" y="15" width="1" height="1"/><rect x="900" y="3" width="1" height="1"/><rect x="900" y="15" width="1" height="1"/><rect x="902" y="3" width="1" height="1"/><rect x="902" y="15" width="1" height="1"/><rect x="904" y="3" width="1" height="1"/><rect x="904" y="15" width="1" height="1"/><rect x="906" y="3" width="1" height="1"/><rect x="906" y="15" width="1" height="1"/><rect x="908" y="3" width="1" height="1"/><rect x="908" y="15" width="1" height="1"/><rect x="910" y="3" width="1" height="1"/><rect x="910" y="15" width="1" height="1"/><rect x="898" y="5" width="1" height="1"/><rect x="910" y="5" width="1" height="1"/><rect x="898" y="7" width="1" height="1"/><rect x="910" y="7" width="1" height="1"/><rect x="898" y="9" width="1" height="1"/><rect x="910" y="9" width="1" height="1"/><rect x="898" y="11" width="1" height="1"/><rect x="910" y="11" width="1" height="1"/><rect x="898" y="13" width="1" height="1"/><rect x="910" y="13" width="1" height="1"/></g>
<text x="899.8" y="13.5" font-size="11" fill="#555" textLength="7.4" lengthAdjust="spacingAndGlyphs" font-weight="bold">T</text>
<path d="M925 5.5 L928 3 L931 5.5 L928 8 Z M933 13.5 L936 11 L939 13.5 L936 16 Z" fill="#555"/><path d="M928 10 L930 12 L934 8" stroke="#555" stroke-width="1.2" fill="none"/>
<path d="M945.5 8 H951.0 L948.25 11 Z" fill="#000"/>
<text x="972.6" y="12.9" font-size="9.6" fill="#333" textLength="12.6" lengthAdjust="spacingAndGlyphs">M1</text>
<text x="1000.4" y="12.9" font-size="9.6" fill="#333" textLength="12.8" lengthAdjust="spacingAndGlyphs">M5</text>
<text x="1026.3" y="12.9" font-size="9.6" fill="#333" textLength="18.0" lengthAdjust="spacingAndGlyphs">M15</text>
<text x="1054.3" y="12.9" font-size="9.6" fill="#333" textLength="17.9" lengthAdjust="spacingAndGlyphs">M30</text>
<text x="1085" y="12.9" font-size="9.6" fill="#333" textLength="12.2" lengthAdjust="spacingAndGlyphs">H1</text>
<text x="1112.3" y="12.9" font-size="9.6" fill="#333" textLength="12.7" lengthAdjust="spacingAndGlyphs">H4</text>
<text x="1141.4" y="12.9" font-size="9.6" fill="#333" textLength="12.1" lengthAdjust="spacingAndGlyphs">D1</text>
<text x="1168.4" y="12.9" font-size="9.6" fill="#333" textLength="15.0" lengthAdjust="spacingAndGlyphs">W1</text>
<text x="1195.6" y="12.9" font-size="9.6" fill="#333" textLength="15.2" lengthAdjust="spacingAndGlyphs">MN</text>
<circle cx="1688.5" cy="6.4" r="4" fill="#fff" stroke="#2060d0" stroke-width="1.3"/><path d="M1685.5 9.5 L1681.5 13.5" stroke="#2060d0" stroke-width="2.2" stroke-linecap="round"/>
<ellipse cx="1710.5" cy="11" rx="6.5" ry="4.8" fill="#eceef4" stroke="#b0b0b0"/><path d="M1707.5 15 L1708.5 17.5 L1711 15.5" fill="#d0d0d8" stroke="#888" stroke-width="0.8"/><circle cx="1719.5" cy="6" r="8.4" fill="url(#gRed)"/>
<text x="1716" y="11" font-size="13" fill="#fff" font-family="Liberation Serif" textLength="6.5" lengthAdjust="spacingAndGlyphs" font-weight="bold">1</text>
<path d="M1444 26 H1453 L1448.5 31 Z" fill="#c0c0c0"/>
</svg>
</body></html>
